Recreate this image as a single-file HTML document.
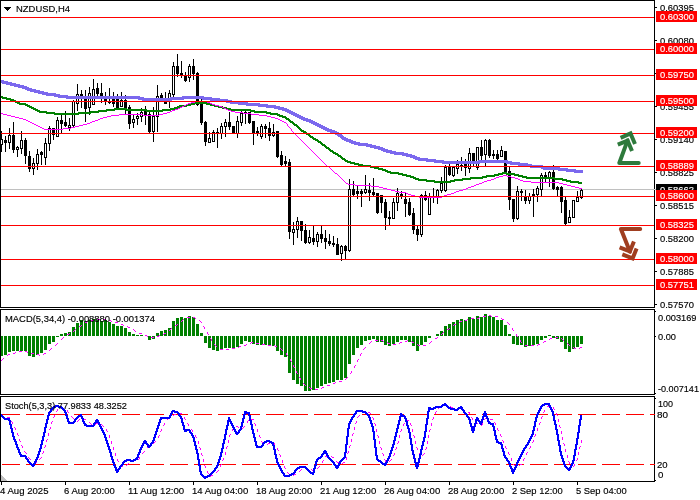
<!DOCTYPE html>
<html><head><meta charset="utf-8"><title>NZDUSD,H4</title>
<style>html,body{margin:0;padding:0;background:#fff;width:700px;height:500px;overflow:hidden}svg{display:block}rect,polygon,polyline,path{shape-rendering:crispEdges}.aa polyline{shape-rendering:geometricPrecision}text{font-family:'Liberation Sans', sans-serif;font-size:9.8px;fill:#000;stroke:#000;stroke-width:0.15px}text.w{fill:#fff;stroke:#fff}</style>
</head><body><svg width="700" height="500" viewBox="0 0 700 500"><rect width="700" height="500" fill="#fff"/><rect x="1" y="189" width="655" height="1" fill="#c0c0c0"/><rect x="1" y="131" width="1" height="21"/><rect x="0" y="139" width="3" height="6"/><rect x="1" y="140" width="1" height="4" fill="#fff"/><rect x="5" y="136" width="1" height="16"/><rect x="4" y="140" width="3" height="3"/><rect x="9" y="128" width="1" height="21"/><rect x="8" y="135" width="3" height="8"/><rect x="9" y="136" width="1" height="6" fill="#fff"/><rect x="13" y="122" width="1" height="31"/><rect x="12" y="135" width="3" height="15"/><rect x="17" y="146" width="1" height="11"/><rect x="16" y="147" width="3" height="3"/><rect x="17" y="148" width="1" height="1" fill="#fff"/><rect x="21" y="131" width="1" height="23"/><rect x="20" y="140" width="3" height="9"/><rect x="21" y="141" width="1" height="7" fill="#fff"/><rect x="25" y="138" width="1" height="26"/><rect x="24" y="140" width="3" height="16"/><rect x="29" y="151" width="1" height="21"/><rect x="28" y="156" width="3" height="13"/><rect x="33" y="158" width="1" height="17"/><rect x="32" y="163" width="3" height="6"/><rect x="33" y="164" width="1" height="4" fill="#fff"/><rect x="37" y="149" width="1" height="21"/><rect x="36" y="154" width="3" height="10"/><rect x="37" y="155" width="1" height="8" fill="#fff"/><rect x="41" y="151" width="1" height="14"/><rect x="40" y="152" width="3" height="3"/><rect x="45" y="138" width="1" height="27"/><rect x="44" y="143" width="3" height="15"/><rect x="45" y="144" width="1" height="13" fill="#fff"/><rect x="49" y="126" width="1" height="25"/><rect x="48" y="128" width="3" height="16"/><rect x="49" y="129" width="1" height="14" fill="#fff"/><rect x="53" y="128" width="1" height="12"/><rect x="52" y="128" width="3" height="7"/><rect x="57" y="117" width="1" height="20"/><rect x="56" y="120" width="3" height="17"/><rect x="57" y="121" width="1" height="15" fill="#fff"/><rect x="61" y="115" width="1" height="19"/><rect x="60" y="120" width="3" height="4"/><rect x="65" y="111" width="1" height="16"/><rect x="64" y="122" width="3" height="4"/><rect x="69" y="118" width="1" height="13"/><rect x="68" y="125" width="3" height="3"/><rect x="69" y="126" width="1" height="1" fill="#fff"/><rect x="73" y="100" width="1" height="27"/><rect x="72" y="101" width="3" height="25"/><rect x="73" y="102" width="1" height="23" fill="#fff"/><rect x="77" y="84" width="1" height="27"/><rect x="76" y="94" width="3" height="10"/><rect x="77" y="95" width="1" height="8" fill="#fff"/><rect x="81" y="90" width="1" height="18"/><rect x="80" y="94" width="3" height="3"/><rect x="85" y="90" width="1" height="32"/><rect x="84" y="99" width="3" height="10"/><rect x="89" y="87" width="1" height="28"/><rect x="88" y="93" width="3" height="15"/><rect x="89" y="94" width="1" height="13" fill="#fff"/><rect x="93" y="79" width="1" height="26"/><rect x="92" y="89" width="3" height="16"/><rect x="93" y="90" width="1" height="14" fill="#fff"/><rect x="97" y="83" width="1" height="14"/><rect x="96" y="88" width="3" height="6"/><rect x="101" y="83" width="1" height="20"/><rect x="100" y="93" width="3" height="4"/><rect x="105" y="92" width="1" height="13"/><rect x="104" y="99" width="3" height="2"/><rect x="109" y="88" width="1" height="16"/><rect x="108" y="101" width="3" height="2"/><rect x="113" y="92" width="1" height="15"/><rect x="112" y="99" width="3" height="5"/><rect x="117" y="94" width="1" height="15"/><rect x="116" y="99" width="3" height="9"/><rect x="121" y="92" width="1" height="15"/><rect x="120" y="100" width="3" height="7"/><rect x="121" y="101" width="1" height="5" fill="#fff"/><rect x="125" y="95" width="1" height="20"/><rect x="124" y="100" width="3" height="8"/><rect x="129" y="105" width="1" height="24"/><rect x="128" y="107" width="3" height="17"/><rect x="133" y="115" width="1" height="13"/><rect x="132" y="119" width="3" height="4"/><rect x="133" y="120" width="1" height="2" fill="#fff"/><rect x="137" y="113" width="1" height="12"/><rect x="136" y="116" width="3" height="3"/><rect x="137" y="117" width="1" height="1" fill="#fff"/><rect x="141" y="108" width="1" height="14"/><rect x="140" y="112" width="3" height="5"/><rect x="141" y="113" width="1" height="3" fill="#fff"/><rect x="145" y="106" width="1" height="19"/><rect x="144" y="110" width="3" height="5"/><rect x="149" y="112" width="1" height="21"/><rect x="148" y="114" width="3" height="18"/><rect x="153" y="107" width="1" height="35"/><rect x="152" y="116" width="3" height="16"/><rect x="153" y="117" width="1" height="14" fill="#fff"/><rect x="157" y="85" width="1" height="47"/><rect x="156" y="96" width="3" height="21"/><rect x="157" y="97" width="1" height="19" fill="#fff"/><rect x="161" y="93" width="1" height="8"/><rect x="160" y="95" width="3" height="4"/><rect x="165" y="92" width="1" height="12"/><rect x="164" y="102" width="3" height="2"/><rect x="169" y="90" width="1" height="18"/><rect x="168" y="93" width="3" height="6"/><rect x="169" y="94" width="1" height="4" fill="#fff"/><rect x="173" y="62" width="1" height="36"/><rect x="172" y="66" width="3" height="29"/><rect x="173" y="67" width="1" height="27" fill="#fff"/><rect x="177" y="54" width="1" height="23"/><rect x="176" y="66" width="3" height="8"/><rect x="181" y="61" width="1" height="17"/><rect x="180" y="73" width="3" height="3"/><rect x="185" y="72" width="1" height="10"/><rect x="184" y="76" width="3" height="5"/><rect x="189" y="64" width="1" height="18"/><rect x="188" y="66" width="3" height="12"/><rect x="189" y="67" width="1" height="10" fill="#fff"/><rect x="193" y="59" width="1" height="21"/><rect x="192" y="66" width="3" height="8"/><rect x="197" y="72" width="1" height="34"/><rect x="196" y="73" width="3" height="32"/><rect x="201" y="99" width="1" height="26"/><rect x="200" y="102" width="3" height="21"/><rect x="205" y="121" width="1" height="25"/><rect x="204" y="122" width="3" height="20"/><rect x="209" y="132" width="1" height="11"/><rect x="208" y="138" width="3" height="5"/><rect x="209" y="139" width="1" height="3" fill="#fff"/><rect x="213" y="130" width="1" height="12"/><rect x="212" y="132" width="3" height="10"/><rect x="213" y="133" width="1" height="8" fill="#fff"/><rect x="217" y="128" width="1" height="20"/><rect x="216" y="132" width="3" height="2"/><rect x="221" y="123" width="1" height="16"/><rect x="220" y="126" width="3" height="8"/><rect x="221" y="127" width="1" height="6" fill="#fff"/><rect x="225" y="119" width="1" height="18"/><rect x="224" y="122" width="3" height="5"/><rect x="225" y="123" width="1" height="3" fill="#fff"/><rect x="229" y="112" width="1" height="18"/><rect x="228" y="122" width="3" height="5"/><rect x="233" y="126" width="1" height="8"/><rect x="232" y="126" width="3" height="8"/><rect x="237" y="116" width="1" height="22"/><rect x="236" y="121" width="3" height="13"/><rect x="237" y="122" width="1" height="11" fill="#fff"/><rect x="241" y="111" width="1" height="15"/><rect x="240" y="113" width="3" height="10"/><rect x="241" y="114" width="1" height="8" fill="#fff"/><rect x="245" y="111" width="1" height="13"/><rect x="244" y="112" width="3" height="2"/><rect x="249" y="112" width="1" height="12"/><rect x="248" y="112" width="3" height="11"/><rect x="253" y="121" width="1" height="24"/><rect x="252" y="121" width="3" height="13"/><rect x="257" y="127" width="1" height="9"/><rect x="256" y="131" width="3" height="3"/><rect x="261" y="124" width="1" height="15"/><rect x="260" y="126" width="3" height="11"/><rect x="261" y="127" width="1" height="9" fill="#fff"/><rect x="265" y="124" width="1" height="14"/><rect x="264" y="126" width="3" height="3"/><rect x="269" y="122" width="1" height="19"/><rect x="268" y="128" width="3" height="8"/><rect x="273" y="124" width="1" height="13"/><rect x="272" y="132" width="3" height="4"/><rect x="273" y="133" width="1" height="2" fill="#fff"/><rect x="277" y="131" width="1" height="27"/><rect x="276" y="131" width="3" height="26"/><rect x="281" y="151" width="1" height="15"/><rect x="280" y="155" width="3" height="10"/><rect x="285" y="156" width="1" height="11"/><rect x="284" y="161" width="3" height="3"/><rect x="289" y="159" width="1" height="80"/><rect x="288" y="162" width="3" height="70"/><rect x="293" y="222" width="1" height="23"/><rect x="292" y="229" width="3" height="4"/><rect x="293" y="230" width="1" height="2" fill="#fff"/><rect x="297" y="217" width="1" height="21"/><rect x="296" y="221" width="3" height="9"/><rect x="297" y="222" width="1" height="7" fill="#fff"/><rect x="301" y="221" width="1" height="20"/><rect x="300" y="221" width="3" height="10"/><rect x="305" y="224" width="1" height="20"/><rect x="304" y="230" width="3" height="13"/><rect x="309" y="230" width="1" height="14"/><rect x="308" y="237" width="3" height="6"/><rect x="309" y="238" width="1" height="4" fill="#fff"/><rect x="313" y="226" width="1" height="19"/><rect x="312" y="238" width="3" height="4"/><rect x="317" y="232" width="1" height="15"/><rect x="316" y="234" width="3" height="8"/><rect x="317" y="235" width="1" height="6" fill="#fff"/><rect x="321" y="226" width="1" height="17"/><rect x="320" y="234" width="3" height="5"/><rect x="325" y="230" width="1" height="19"/><rect x="324" y="238" width="3" height="4"/><rect x="329" y="234" width="1" height="12"/><rect x="328" y="241" width="3" height="3"/><rect x="333" y="236" width="1" height="11"/><rect x="332" y="243" width="3" height="2"/><rect x="337" y="238" width="1" height="17"/><rect x="336" y="244" width="3" height="11"/><rect x="341" y="245" width="1" height="16"/><rect x="340" y="246" width="3" height="8"/><rect x="341" y="247" width="1" height="6" fill="#fff"/><rect x="345" y="245" width="1" height="15"/><rect x="344" y="246" width="3" height="5"/><rect x="349" y="179" width="1" height="73"/><rect x="348" y="189" width="3" height="62"/><rect x="349" y="190" width="1" height="60" fill="#fff"/><rect x="353" y="181" width="1" height="15"/><rect x="352" y="189" width="3" height="6"/><rect x="357" y="186" width="1" height="13"/><rect x="356" y="191" width="3" height="3"/><rect x="361" y="189" width="1" height="18"/><rect x="360" y="191" width="3" height="3"/><rect x="365" y="175" width="1" height="19"/><rect x="364" y="189" width="3" height="4"/><rect x="365" y="190" width="1" height="2" fill="#fff"/><rect x="369" y="183" width="1" height="18"/><rect x="368" y="190" width="3" height="3"/><rect x="373" y="178" width="1" height="18"/><rect x="372" y="192" width="3" height="3"/><rect x="377" y="193" width="1" height="21"/><rect x="376" y="193" width="3" height="20"/><rect x="381" y="195" width="1" height="18"/><rect x="380" y="195" width="3" height="8"/><rect x="385" y="199" width="1" height="31"/><rect x="384" y="202" width="3" height="16"/><rect x="389" y="211" width="1" height="14"/><rect x="388" y="217" width="3" height="2"/><rect x="393" y="198" width="1" height="21"/><rect x="392" y="202" width="3" height="17"/><rect x="393" y="203" width="1" height="15" fill="#fff"/><rect x="397" y="188" width="1" height="23"/><rect x="396" y="193" width="3" height="10"/><rect x="397" y="194" width="1" height="8" fill="#fff"/><rect x="401" y="191" width="1" height="8"/><rect x="400" y="194" width="3" height="3"/><rect x="405" y="193" width="1" height="24"/><rect x="404" y="199" width="3" height="5"/><rect x="409" y="198" width="1" height="18"/><rect x="408" y="202" width="3" height="13"/><rect x="413" y="208" width="1" height="26"/><rect x="412" y="213" width="3" height="17"/><rect x="417" y="226" width="1" height="15"/><rect x="416" y="229" width="3" height="6"/><rect x="421" y="194" width="1" height="43"/><rect x="420" y="195" width="3" height="40"/><rect x="421" y="196" width="1" height="38" fill="#fff"/><rect x="425" y="191" width="1" height="10"/><rect x="424" y="195" width="3" height="5"/><rect x="429" y="193" width="1" height="22"/><rect x="428" y="197" width="3" height="18"/><rect x="429" y="198" width="1" height="16" fill="#fff"/><rect x="433" y="188" width="1" height="15"/><rect x="432" y="196" width="3" height="2"/><rect x="437" y="189" width="1" height="15"/><rect x="436" y="190" width="3" height="8"/><rect x="437" y="191" width="1" height="6" fill="#fff"/><rect x="441" y="177" width="1" height="16"/><rect x="440" y="183" width="3" height="8"/><rect x="441" y="184" width="1" height="6" fill="#fff"/><rect x="445" y="165" width="1" height="27"/><rect x="444" y="167" width="3" height="24"/><rect x="445" y="168" width="1" height="22" fill="#fff"/><rect x="449" y="164" width="1" height="12"/><rect x="448" y="167" width="3" height="8"/><rect x="453" y="166" width="1" height="11"/><rect x="452" y="167" width="3" height="9"/><rect x="453" y="168" width="1" height="7" fill="#fff"/><rect x="457" y="160" width="1" height="14"/><rect x="456" y="164" width="3" height="5"/><rect x="457" y="165" width="1" height="3" fill="#fff"/><rect x="461" y="157" width="1" height="14"/><rect x="460" y="165" width="3" height="2"/><rect x="465" y="159" width="1" height="17"/><rect x="464" y="164" width="3" height="4"/><rect x="469" y="148" width="1" height="25"/><rect x="468" y="153" width="3" height="16"/><rect x="469" y="154" width="1" height="14" fill="#fff"/><rect x="473" y="153" width="1" height="13"/><rect x="472" y="153" width="3" height="9"/><rect x="477" y="147" width="1" height="23"/><rect x="476" y="147" width="3" height="21"/><rect x="477" y="148" width="1" height="19" fill="#fff"/><rect x="481" y="140" width="1" height="21"/><rect x="480" y="147" width="3" height="9"/><rect x="485" y="139" width="1" height="27"/><rect x="484" y="140" width="3" height="15"/><rect x="485" y="141" width="1" height="13" fill="#fff"/><rect x="489" y="139" width="1" height="19"/><rect x="488" y="140" width="3" height="16"/><rect x="493" y="150" width="1" height="9"/><rect x="492" y="154" width="3" height="2"/><rect x="497" y="150" width="1" height="10"/><rect x="496" y="154" width="3" height="5"/><rect x="501" y="146" width="1" height="11"/><rect x="500" y="150" width="3" height="7"/><rect x="501" y="151" width="1" height="5" fill="#fff"/><rect x="505" y="151" width="1" height="21"/><rect x="504" y="151" width="3" height="21"/><rect x="509" y="167" width="1" height="43"/><rect x="508" y="171" width="3" height="29"/><rect x="513" y="199" width="1" height="23"/><rect x="512" y="199" width="3" height="20"/><rect x="517" y="186" width="1" height="34"/><rect x="516" y="191" width="3" height="28"/><rect x="517" y="192" width="1" height="26" fill="#fff"/><rect x="521" y="189" width="1" height="12"/><rect x="520" y="191" width="3" height="2"/><rect x="525" y="190" width="1" height="14"/><rect x="524" y="197" width="3" height="4"/><rect x="529" y="193" width="1" height="11"/><rect x="528" y="196" width="3" height="5"/><rect x="529" y="197" width="1" height="3" fill="#fff"/><rect x="533" y="189" width="1" height="28"/><rect x="532" y="194" width="3" height="2"/><rect x="537" y="186" width="1" height="16"/><rect x="536" y="188" width="3" height="7"/><rect x="537" y="189" width="1" height="5" fill="#fff"/><rect x="541" y="173" width="1" height="24"/><rect x="540" y="175" width="3" height="15"/><rect x="541" y="176" width="1" height="13" fill="#fff"/><rect x="545" y="172" width="1" height="10"/><rect x="544" y="175" width="3" height="4"/><rect x="549" y="171" width="1" height="16"/><rect x="548" y="172" width="3" height="7"/><rect x="549" y="173" width="1" height="5" fill="#fff"/><rect x="553" y="165" width="1" height="25"/><rect x="552" y="172" width="3" height="17"/><rect x="557" y="186" width="1" height="10"/><rect x="556" y="187" width="3" height="3"/><rect x="561" y="186" width="1" height="27"/><rect x="560" y="187" width="3" height="15"/><rect x="565" y="197" width="1" height="29"/><rect x="564" y="200" width="3" height="24"/><rect x="569" y="210" width="1" height="13"/><rect x="568" y="217" width="3" height="6"/><rect x="569" y="218" width="1" height="4" fill="#fff"/><rect x="573" y="200" width="1" height="18"/><rect x="572" y="200" width="3" height="18"/><rect x="573" y="201" width="1" height="16" fill="#fff"/><rect x="577" y="191" width="1" height="11"/><rect x="576" y="197" width="3" height="5"/><rect x="577" y="198" width="1" height="3" fill="#fff"/><rect x="581" y="189" width="1" height="10"/><rect x="580" y="190" width="3" height="8"/><rect x="581" y="191" width="1" height="6" fill="#fff"/><path fill="#7b68ee" d="M0 80h4v1h-4zM0 81h8v1h-8zM0 82h12v1h-12zM2 83h14v1h-14zM6 84h14v1h-14zM10 85h14v1h-14zM14 86h13v1h-13zM18 87h11v1h-11zM22 88h10v1h-10zM25 89h11v1h-11zM27 90h13v1h-13zM30 91h14v1h-14zM34 92h14v1h-14zM38 93h18v1h-18zM42 94h18v1h-18zM46 95h22v1h-22zM54 96h86v1h-86zM182 96h22v1h-22zM58 97h86v1h-86zM170 97h42v1h-42zM66 98h154v1h-154zM138 99h46v1h-46zM202 99h26v1h-26zM142 100h30v1h-30zM210 100h22v1h-22zM218 101h22v1h-22zM226 102h22v1h-22zM230 103h30v1h-30zM238 104h30v1h-30zM246 105h30v1h-30zM258 106h22v1h-22zM266 107h18v1h-18zM274 108h13v1h-13zM278 109h11v1h-11zM282 110h9v1h-9zM285 111h8v1h-8zM287 112h8v1h-8zM289 113h8v1h-8zM291 114h8v1h-8zM293 115h8v1h-8zM295 116h8v1h-8zM297 117h8v1h-8zM299 118h9v1h-9zM301 119h10v1h-10zM303 120h10v1h-10zM306 121h9v1h-9zM309 122h8v1h-8zM311 123h8v1h-8zM313 124h8v1h-8zM315 125h8v1h-8zM317 126h8v1h-8zM319 127h8v1h-8zM321 128h8v1h-8zM323 129h9v1h-9zM325 130h10v1h-10zM327 131h10v1h-10zM330 132h9v1h-9zM333 133h7v1h-7zM335 134h7v1h-7zM337 135h6v1h-6zM338 136h6v1h-6zM340 137h6v1h-6zM341 138h7v1h-7zM342 139h9v1h-9zM344 140h9v1h-9zM346 141h10v1h-10zM349 142h11v1h-11zM351 143h17v1h-17zM354 144h18v1h-18zM358 145h18v1h-18zM366 146h14v1h-14zM370 147h13v1h-13zM374 148h11v1h-11zM378 149h10v1h-10zM381 150h11v1h-11zM383 151h13v1h-13zM386 152h18v1h-18zM390 153h18v1h-18zM394 154h18v1h-18zM402 155h13v1h-13zM406 156h11v1h-11zM410 157h10v1h-10zM413 158h15v1h-15zM415 159h21v1h-21zM418 160h26v1h-26zM478 160h30v1h-30zM426 161h86v1h-86zM434 162h86v1h-86zM442 163h38v1h-38zM506 163h22v1h-22zM510 164h22v1h-22zM518 165h25v1h-25zM526 166h19v1h-19zM530 167h30v1h-30zM541 168h27v1h-27zM543 169h33v1h-33zM558 170h25v1h-25zM566 171h17v1h-17zM574 172h9v1h-9z"/><path fill="#008000" d="M0 96h3v1h-3zM0 97h7v1h-7zM2 98h9v1h-9zM6 99h8v1h-8zM10 100h6v1h-6zM13 101h5v1h-5zM15 102h5v1h-5zM194 102h13v1h-13zM17 103h9v1h-9zM190 103h21v1h-21zM19 104h9v1h-9zM186 104h9v1h-9zM206 104h9v1h-9zM25 105h5v1h-5zM179 105h12v1h-12zM210 105h9v1h-9zM27 106h5v1h-5zM177 106h10v1h-10zM214 106h9v1h-9zM29 107h5v1h-5zM174 107h6v1h-6zM218 107h9v1h-9zM31 108h5v1h-5zM114 108h13v1h-13zM170 108h8v1h-8zM222 108h9v1h-9zM33 109h5v1h-5zM106 109h41v1h-41zM162 109h13v1h-13zM226 109h25v1h-25zM35 110h5v1h-5zM98 110h17v1h-17zM126 110h45v1h-45zM230 110h25v1h-25zM37 111h10v1h-10zM90 111h17v1h-17zM146 111h17v1h-17zM250 111h17v1h-17zM39 112h16v1h-16zM78 112h21v1h-21zM254 112h17v1h-17zM46 113h45v1h-45zM266 113h12v1h-12zM54 114h25v1h-25zM270 114h10v1h-10zM277 115h6v1h-6zM279 116h7v1h-7zM282 117h5v1h-5zM285 118h4v1h-4zM286 119h4v1h-4zM288 120h3v1h-3zM289 121h4v1h-4zM290 122h4v1h-4zM292 123h3v1h-3zM293 124h4v1h-4zM294 125h4v1h-4zM296 126h3v1h-3zM297 127h3v1h-3zM298 128h3v1h-3zM299 129h3v1h-3zM300 130h4v1h-4zM301 131h5v1h-5zM303 132h4v1h-4zM305 133h4v1h-4zM306 134h4v1h-4zM308 135h3v1h-3zM309 136h4v1h-4zM310 137h4v1h-4zM312 138h4v1h-4zM313 139h5v1h-5zM315 140h4v1h-4zM317 141h4v1h-4zM318 142h4v1h-4zM320 143h3v1h-3zM321 144h4v1h-4zM322 145h4v1h-4zM324 146h3v1h-3zM325 147h4v1h-4zM326 148h4v1h-4zM328 149h3v1h-3zM329 150h4v1h-4zM330 151h4v1h-4zM332 152h4v1h-4zM333 153h5v1h-5zM335 154h4v1h-4zM337 155h4v1h-4zM338 156h4v1h-4zM340 157h3v1h-3zM341 158h4v1h-4zM342 159h4v1h-4zM344 160h4v1h-4zM345 161h6v1h-6zM347 162h8v1h-8zM350 163h9v1h-9zM354 164h9v1h-9zM358 165h13v1h-13zM362 166h13v1h-13zM370 167h9v1h-9zM374 168h9v1h-9zM378 169h8v1h-8zM382 170h6v1h-6zM385 171h6v1h-6zM387 172h12v1h-12zM502 172h5v1h-5zM390 173h13v1h-13zM498 173h17v1h-17zM398 174h9v1h-9zM494 174h9v1h-9zM506 174h13v1h-13zM402 175h9v1h-9zM486 175h13v1h-13zM514 175h9v1h-9zM406 176h8v1h-8zM482 176h13v1h-13zM518 176h9v1h-9zM410 177h6v1h-6zM470 177h17v1h-17zM522 177h33v1h-33zM413 178h6v1h-6zM462 178h21v1h-21zM526 178h37v1h-37zM415 179h12v1h-12zM454 179h17v1h-17zM554 179h13v1h-13zM418 180h17v1h-17zM450 180h13v1h-13zM562 180h9v1h-9zM426 181h29v1h-29zM566 181h13v1h-13zM434 182h17v1h-17zM570 182h12v1h-12zM578 183h4v1h-4z"/><path fill="#ff00ff" d="M195 101h12v1h-12zM191 102h4v1h-4zM207 102h3v1h-3zM188 103h3v1h-3zM210 103h2v1h-2zM186 104h2v1h-2zM212 104h3v1h-3zM184 105h2v1h-2zM215 105h4v1h-4zM182 106h2v1h-2zM219 106h3v1h-3zM180 107h2v1h-2zM222 107h2v1h-2zM178 108h2v1h-2zM224 108h2v1h-2zM175 109h3v1h-3zM226 109h2v1h-2zM172 110h3v1h-3zM228 110h3v1h-3zM170 111h2v1h-2zM231 111h4v1h-4zM167 112h3v1h-3zM235 112h8v1h-8zM1 113h2v1h-2zM163 113h4v1h-4zM243 113h8v1h-8zM3 114h4v1h-4zM119 114h24v1h-24zM159 114h4v1h-4zM251 114h8v1h-8zM7 115h4v1h-4zM111 115h8v1h-8zM143 115h16v1h-16zM259 115h8v1h-8zM11 116h4v1h-4zM107 116h4v1h-4zM267 116h4v1h-4zM15 117h4v1h-4zM103 117h4v1h-4zM271 117h4v1h-4zM19 118h4v1h-4zM100 118h3v1h-3zM275 118h3v1h-3zM23 119h3v1h-3zM98 119h2v1h-2zM278 119h2v1h-2zM26 120h2v1h-2zM95 120h3v1h-3zM280 120h2v1h-2zM28 121h2v1h-2zM92 121h3v1h-3zM282 121h2v1h-2zM30 122h2v1h-2zM90 122h2v1h-2zM284 122h2v1h-2zM32 123h2v1h-2zM87 123h3v1h-3zM286 123h1v1h-1zM34 124h2v1h-2zM83 124h4v1h-4zM287 124h1v1h-1zM36 125h2v1h-2zM79 125h4v1h-4zM287 125h1v1h-1zM38 126h2v1h-2zM75 126h4v1h-4zM288 126h1v1h-1zM40 127h2v1h-2zM71 127h4v1h-4zM289 127h1v1h-1zM42 128h2v1h-2zM63 128h8v1h-8zM290 128h1v1h-1zM44 129h19v1h-19zM291 129h1v1h-1zM291 130h1v1h-1zM292 131h1v1h-1zM293 132h1v1h-1zM294 133h1v1h-1zM295 134h1v1h-1zM296 135h1v1h-1zM297 136h1v1h-1zM298 137h1v1h-1zM299 138h1v1h-1zM300 139h1v1h-1zM301 140h1v1h-1zM302 141h1v1h-1zM303 142h1v1h-1zM304 143h1v1h-1zM305 144h1v1h-1zM306 145h1v1h-1zM307 146h1v1h-1zM308 147h1v1h-1zM309 148h1v1h-1zM310 149h1v1h-1zM311 150h1v1h-1zM312 151h1v1h-1zM313 152h1v1h-1zM314 153h1v1h-1zM315 154h1v1h-1zM316 155h1v1h-1zM317 156h1v1h-1zM318 157h1v1h-1zM319 158h1v1h-1zM320 159h1v1h-1zM321 160h1v1h-1zM322 161h1v1h-1zM323 162h1v1h-1zM324 163h1v1h-1zM325 164h1v1h-1zM326 165h1v1h-1zM327 166h2v1h-2zM329 167h1v1h-1zM330 168h1v1h-1zM331 169h1v1h-1zM332 170h1v1h-1zM333 171h1v1h-1zM334 172h1v1h-1zM335 173h2v1h-2zM337 174h1v1h-1zM338 175h1v1h-1zM503 175h4v1h-4zM339 176h1v1h-1zM499 176h4v1h-4zM507 176h4v1h-4zM340 177h1v1h-1zM496 177h3v1h-3zM511 177h4v1h-4zM341 178h1v1h-1zM494 178h2v1h-2zM515 178h3v1h-3zM342 179h1v1h-1zM491 179h3v1h-3zM518 179h2v1h-2zM343 180h1v1h-1zM487 180h4v1h-4zM520 180h3v1h-3zM344 181h1v1h-1zM484 181h3v1h-3zM523 181h8v1h-8zM345 182h1v1h-1zM482 182h2v1h-2zM531 182h28v1h-28zM346 183h2v1h-2zM479 183h3v1h-3zM559 183h4v1h-4zM348 184h7v1h-7zM476 184h3v1h-3zM563 184h4v1h-4zM355 185h16v1h-16zM474 185h2v1h-2zM567 185h4v1h-4zM371 186h8v1h-8zM471 186h3v1h-3zM571 186h4v1h-4zM379 187h4v1h-4zM468 187h3v1h-3zM575 187h4v1h-4zM383 188h4v1h-4zM466 188h2v1h-2zM579 188h3v1h-3zM387 189h4v1h-4zM463 189h3v1h-3zM391 190h4v1h-4zM459 190h4v1h-4zM395 191h4v1h-4zM456 191h3v1h-3zM399 192h7v1h-7zM454 192h2v1h-2zM406 193h2v1h-2zM451 193h3v1h-3zM408 194h3v1h-3zM447 194h4v1h-4zM411 195h4v1h-4zM444 195h3v1h-3zM415 196h4v1h-4zM442 196h2v1h-2zM419 197h23v1h-23z"/><rect x="1" y="17" width="653" height="1" fill="#f00"/><rect x="1" y="49" width="653" height="1" fill="#f00"/><rect x="1" y="75" width="653" height="1" fill="#f00"/><rect x="1" y="101" width="653" height="1" fill="#f00"/><rect x="1" y="133" width="653" height="1" fill="#f00"/><rect x="1" y="166" width="653" height="1" fill="#f00"/><rect x="1" y="196" width="653" height="1" fill="#f00"/><rect x="1" y="225" width="653" height="1" fill="#f00"/><rect x="1" y="259" width="653" height="1" fill="#f00"/><rect x="1" y="285" width="653" height="1" fill="#f00"/><g class="aa" fill="none" stroke="#2e7a3c" stroke-width="4"><polyline points="638.7,163 619.3,163 627.5,140.6" stroke-linecap="round" stroke-linejoin="round"/><polyline points="617.8,144.7 627.6,140.6 632,151"/><polyline points="620.6,137.8 630.5,133.5 635,144"/></g><g class="aa" fill="none" stroke="#a03e20" stroke-width="4"><polyline points="640.2,229 620.9,229 629.9,251.4" stroke-linecap="round" stroke-linejoin="round"/><polyline points="619.6,247.4 629.9,251.4 633.9,241.6"/><polyline points="622.3,254.4 632.6,258.4 636.6,248.6"/></g><rect x="0" y="336" width="3" height="20" fill="#008000"/><rect x="4" y="336" width="3" height="19" fill="#008000"/><rect x="8" y="336" width="3" height="16" fill="#008000"/><rect x="12" y="336" width="3" height="15" fill="#008000"/><rect x="16" y="336" width="3" height="15" fill="#008000"/><rect x="20" y="336" width="3" height="15" fill="#008000"/><rect x="24" y="336" width="3" height="15" fill="#008000"/><rect x="28" y="336" width="3" height="20" fill="#008000"/><rect x="32" y="336" width="3" height="21" fill="#008000"/><rect x="36" y="336" width="3" height="19" fill="#008000"/><rect x="40" y="336" width="3" height="17" fill="#008000"/><rect x="44" y="336" width="3" height="14" fill="#008000"/><rect x="48" y="336" width="3" height="8" fill="#008000"/><rect x="52" y="336" width="3" height="6" fill="#008000"/><rect x="56" y="336" width="3" height="1" fill="#008000"/><rect x="60" y="334" width="3" height="2" fill="#008000"/><rect x="64" y="333" width="3" height="3" fill="#008000"/><rect x="68" y="332" width="3" height="4" fill="#008000"/><rect x="72" y="327" width="3" height="9" fill="#008000"/><rect x="76" y="323" width="3" height="13" fill="#008000"/><rect x="80" y="320" width="3" height="16" fill="#008000"/><rect x="84" y="321" width="3" height="15" fill="#008000"/><rect x="88" y="320" width="3" height="16" fill="#008000"/><rect x="92" y="319" width="3" height="17" fill="#008000"/><rect x="96" y="319" width="3" height="17" fill="#008000"/><rect x="100" y="321" width="3" height="15" fill="#008000"/><rect x="104" y="320" width="3" height="16" fill="#008000"/><rect x="108" y="322" width="3" height="14" fill="#008000"/><rect x="112" y="324" width="3" height="12" fill="#008000"/><rect x="116" y="326" width="3" height="10" fill="#008000"/><rect x="120" y="326" width="3" height="10" fill="#008000"/><rect x="124" y="328" width="3" height="8" fill="#008000"/><rect x="128" y="332" width="3" height="4" fill="#008000"/><rect x="132" y="334" width="3" height="2" fill="#008000"/><rect x="136" y="335" width="3" height="1" fill="#008000"/><rect x="140" y="335" width="3" height="1" fill="#008000"/><rect x="148" y="336" width="3" height="4" fill="#008000"/><rect x="152" y="336" width="3" height="3" fill="#008000"/><rect x="156" y="333" width="3" height="3" fill="#008000"/><rect x="160" y="331" width="3" height="5" fill="#008000"/><rect x="164" y="330" width="3" height="6" fill="#008000"/><rect x="168" y="328" width="3" height="8" fill="#008000"/><rect x="172" y="321" width="3" height="15" fill="#008000"/><rect x="176" y="318" width="3" height="18" fill="#008000"/><rect x="180" y="317" width="3" height="19" fill="#008000"/><rect x="184" y="318" width="3" height="18" fill="#008000"/><rect x="188" y="316" width="3" height="20" fill="#008000"/><rect x="192" y="317" width="3" height="19" fill="#008000"/><rect x="196" y="324" width="3" height="12" fill="#008000"/><rect x="200" y="333" width="3" height="3" fill="#008000"/><rect x="204" y="336" width="3" height="7" fill="#008000"/><rect x="208" y="336" width="3" height="12" fill="#008000"/><rect x="212" y="336" width="3" height="14" fill="#008000"/><rect x="216" y="336" width="3" height="15" fill="#008000"/><rect x="220" y="336" width="3" height="13" fill="#008000"/><rect x="224" y="336" width="3" height="12" fill="#008000"/><rect x="228" y="336" width="3" height="12" fill="#008000"/><rect x="232" y="336" width="3" height="12" fill="#008000"/><rect x="236" y="336" width="3" height="11" fill="#008000"/><rect x="240" y="336" width="3" height="8" fill="#008000"/><rect x="244" y="336" width="3" height="5" fill="#008000"/><rect x="248" y="336" width="3" height="6" fill="#008000"/><rect x="252" y="336" width="3" height="8" fill="#008000"/><rect x="256" y="336" width="3" height="9" fill="#008000"/><rect x="260" y="336" width="3" height="9" fill="#008000"/><rect x="264" y="336" width="3" height="9" fill="#008000"/><rect x="268" y="336" width="3" height="10" fill="#008000"/><rect x="272" y="336" width="3" height="10" fill="#008000"/><rect x="276" y="336" width="3" height="15" fill="#008000"/><rect x="280" y="336" width="3" height="19" fill="#008000"/><rect x="284" y="336" width="3" height="21" fill="#008000"/><rect x="288" y="336" width="3" height="37" fill="#008000"/><rect x="292" y="336" width="3" height="44" fill="#008000"/><rect x="296" y="336" width="3" height="48" fill="#008000"/><rect x="300" y="336" width="3" height="50" fill="#008000"/><rect x="304" y="336" width="3" height="55" fill="#008000"/><rect x="308" y="336" width="3" height="55" fill="#008000"/><rect x="312" y="336" width="3" height="54" fill="#008000"/><rect x="316" y="336" width="3" height="52" fill="#008000"/><rect x="320" y="336" width="3" height="50" fill="#008000"/><rect x="324" y="336" width="3" height="48" fill="#008000"/><rect x="328" y="336" width="3" height="47" fill="#008000"/><rect x="332" y="336" width="3" height="46" fill="#008000"/><rect x="336" y="336" width="3" height="44" fill="#008000"/><rect x="340" y="336" width="3" height="44" fill="#008000"/><rect x="344" y="336" width="3" height="42" fill="#008000"/><rect x="348" y="336" width="3" height="28" fill="#008000"/><rect x="352" y="336" width="3" height="19" fill="#008000"/><rect x="356" y="336" width="3" height="12" fill="#008000"/><rect x="360" y="336" width="3" height="9" fill="#008000"/><rect x="364" y="336" width="3" height="5" fill="#008000"/><rect x="368" y="336" width="3" height="4" fill="#008000"/><rect x="372" y="336" width="3" height="3" fill="#008000"/><rect x="376" y="336" width="3" height="6" fill="#008000"/><rect x="380" y="336" width="3" height="6" fill="#008000"/><rect x="384" y="336" width="3" height="9" fill="#008000"/><rect x="388" y="336" width="3" height="10" fill="#008000"/><rect x="392" y="336" width="3" height="8" fill="#008000"/><rect x="396" y="336" width="3" height="6" fill="#008000"/><rect x="400" y="336" width="3" height="4" fill="#008000"/><rect x="404" y="336" width="3" height="4" fill="#008000"/><rect x="408" y="336" width="3" height="6" fill="#008000"/><rect x="412" y="336" width="3" height="10" fill="#008000"/><rect x="416" y="336" width="3" height="15" fill="#008000"/><rect x="420" y="336" width="3" height="9" fill="#008000"/><rect x="424" y="336" width="3" height="6" fill="#008000"/><rect x="428" y="336" width="3" height="2" fill="#008000"/><rect x="436" y="334" width="3" height="2" fill="#008000"/><rect x="440" y="331" width="3" height="5" fill="#008000"/><rect x="444" y="326" width="3" height="10" fill="#008000"/><rect x="448" y="324" width="3" height="12" fill="#008000"/><rect x="452" y="322" width="3" height="14" fill="#008000"/><rect x="456" y="320" width="3" height="16" fill="#008000"/><rect x="460" y="319" width="3" height="17" fill="#008000"/><rect x="464" y="320" width="3" height="16" fill="#008000"/><rect x="468" y="317" width="3" height="19" fill="#008000"/><rect x="472" y="319" width="3" height="17" fill="#008000"/><rect x="476" y="316" width="3" height="20" fill="#008000"/><rect x="480" y="317" width="3" height="19" fill="#008000"/><rect x="484" y="314" width="3" height="22" fill="#008000"/><rect x="488" y="316" width="3" height="20" fill="#008000"/><rect x="492" y="317" width="3" height="19" fill="#008000"/><rect x="496" y="320" width="3" height="16" fill="#008000"/><rect x="500" y="320" width="3" height="16" fill="#008000"/><rect x="504" y="325" width="3" height="11" fill="#008000"/><rect x="508" y="334" width="3" height="2" fill="#008000"/><rect x="512" y="336" width="3" height="8" fill="#008000"/><rect x="516" y="336" width="3" height="9" fill="#008000"/><rect x="520" y="336" width="3" height="9" fill="#008000"/><rect x="524" y="336" width="3" height="11" fill="#008000"/><rect x="528" y="336" width="3" height="10" fill="#008000"/><rect x="532" y="336" width="3" height="9" fill="#008000"/><rect x="536" y="336" width="3" height="8" fill="#008000"/><rect x="540" y="336" width="3" height="4" fill="#008000"/><rect x="544" y="336" width="3" height="2" fill="#008000"/><rect x="548" y="335" width="3" height="1" fill="#008000"/><rect x="552" y="336" width="3" height="2" fill="#008000"/><rect x="556" y="336" width="3" height="3" fill="#008000"/><rect x="560" y="336" width="3" height="6" fill="#008000"/><rect x="564" y="336" width="3" height="13" fill="#008000"/><rect x="568" y="336" width="3" height="16" fill="#008000"/><rect x="572" y="336" width="3" height="13" fill="#008000"/><rect x="576" y="336" width="3" height="11" fill="#008000"/><rect x="580" y="336" width="3" height="8" fill="#008000"/><path fill="#ff00ff" d="M489 315h2v1h-2zM483 316h3v1h-3zM491 316h1v1h-1zM495 316h3v1h-3zM187 317h3v1h-3zM193 317h2v1h-2zM479 317h1v1h-1zM195 318h1v1h-1zM471 318h3v1h-3zM477 318h2v1h-2zM501 318h1v1h-1zM97 319h3v1h-3zM103 319h3v1h-3zM183 319h1v1h-1zM467 319h1v1h-1zM502 319h2v1h-2zM91 320h3v1h-3zM109 320h2v1h-2zM182 320h1v1h-1zM199 320h1v1h-1zM465 320h2v1h-2zM87 321h1v1h-1zM111 321h1v1h-1zM181 321h1v1h-1zM200 321h1v1h-1zM460 321h2v1h-2zM85 322h2v1h-2zM115 322h3v1h-3zM201 322h1v1h-1zM459 322h1v1h-1zM507 322h1v1h-1zM508 323h1v1h-1zM121 324h2v1h-2zM177 324h1v1h-1zM454 324h2v1h-2zM509 324h1v1h-1zM81 325h1v1h-1zM123 325h1v1h-1zM175 325h2v1h-2zM453 325h1v1h-1zM79 326h2v1h-2zM127 326h1v1h-1zM203 326h1v1h-1zM128 327h2v1h-2zM204 327h1v1h-1zM171 328h1v1h-1zM204 328h1v1h-1zM449 328h1v1h-1zM512 328h1v1h-1zM75 329h1v1h-1zM133 329h1v1h-1zM170 329h1v1h-1zM447 329h2v1h-2zM512 329h1v1h-1zM74 330h1v1h-1zM134 330h1v1h-1zM169 330h1v1h-1zM513 330h1v1h-1zM73 331h1v1h-1zM135 331h1v1h-1zM207 332h1v1h-1zM443 332h1v1h-1zM69 333h1v1h-1zM139 333h3v1h-3zM164 333h2v1h-2zM207 333h1v1h-1zM442 333h1v1h-1zM67 334h2v1h-2zM163 334h1v1h-1zM208 334h1v1h-1zM441 334h1v1h-1zM516 334h1v1h-1zM145 335h2v1h-2zM159 335h1v1h-1zM516 335h1v1h-1zM147 336h1v1h-1zM157 336h2v1h-2zM517 336h1v1h-1zM63 337h1v1h-1zM151 337h3v1h-3zM437 337h1v1h-1zM555 337h3v1h-3zM62 338h1v1h-1zM210 338h1v1h-1zM435 338h2v1h-2zM550 338h2v1h-2zM561 338h1v1h-1zM61 339h1v1h-1zM211 339h1v1h-1zM549 339h1v1h-1zM562 339h1v1h-1zM211 340h1v1h-1zM375 340h3v1h-3zM381 340h2v1h-2zM407 340h1v1h-1zM520 340h1v1h-1zM563 340h1v1h-1zM371 341h1v1h-1zM383 341h1v1h-1zM405 341h2v1h-2zM411 341h1v1h-1zM431 341h1v1h-1zM520 341h1v1h-1zM544 341h2v1h-2zM251 342h2v1h-2zM370 342h1v1h-1zM387 342h1v1h-1zM400 342h2v1h-2zM412 342h2v1h-2zM430 342h1v1h-1zM521 342h1v1h-1zM543 342h1v1h-1zM57 343h1v1h-1zM250 343h1v1h-1zM256 343h3v1h-3zM369 343h1v1h-1zM388 343h2v1h-2zM399 343h1v1h-1zM429 343h1v1h-1zM567 343h1v1h-1zM56 344h1v1h-1zM214 344h1v1h-1zM246 344h1v1h-1zM262 344h3v1h-3zM393 344h3v1h-3zM417 344h1v1h-1zM538 344h2v1h-2zM568 344h1v1h-1zM55 345h1v1h-1zM215 345h1v1h-1zM244 345h2v1h-2zM268 345h3v1h-3zM274 345h1v1h-1zM418 345h2v1h-2zM423 345h3v1h-3zM525 345h3v1h-3zM531 345h3v1h-3zM537 345h1v1h-1zM569 345h1v1h-1zM216 346h1v1h-1zM239 346h2v1h-2zM275 346h2v1h-2zM238 347h1v1h-1zM365 347h1v1h-1zM573 347h1v1h-1zM580 347h2v1h-2zM51 348h1v1h-1zM232 348h3v1h-3zM280 348h1v1h-1zM364 348h1v1h-1zM574 348h2v1h-2zM579 348h1v1h-1zM50 349h1v1h-1zM220 349h3v1h-3zM226 349h3v1h-3zM281 349h1v1h-1zM363 349h1v1h-1zM49 350h1v1h-1zM282 350h1v1h-1zM19 351h3v1h-3zM25 351h2v1h-2zM15 352h1v1h-1zM27 352h1v1h-1zM13 353h2v1h-2zM31 353h3v1h-3zM44 353h2v1h-2zM286 353h1v1h-1zM361 353h1v1h-1zM8 354h2v1h-2zM37 354h2v1h-2zM43 354h1v1h-1zM286 354h1v1h-1zM360 354h1v1h-1zM7 355h1v1h-1zM39 355h1v1h-1zM287 355h1v1h-1zM360 355h1v1h-1zM3 358h1v1h-1zM2 359h1v1h-1zM290 359h1v1h-1zM358 359h1v1h-1zM1 360h1v1h-1zM290 360h1v1h-1zM357 360h1v1h-1zM291 361h1v1h-1zM357 361h1v1h-1zM293 365h1v1h-1zM355 365h1v1h-1zM293 366h1v1h-1zM354 366h1v1h-1zM294 367h1v1h-1zM354 367h1v1h-1zM296 371h1v1h-1zM351 371h1v1h-1zM296 372h1v1h-1zM351 372h1v1h-1zM297 373h1v1h-1zM350 373h1v1h-1zM299 377h1v1h-1zM347 377h1v1h-1zM300 378h1v1h-1zM346 378h1v1h-1zM300 379h1v1h-1zM345 379h1v1h-1zM339 381h3v1h-3zM335 382h1v1h-1zM303 383h1v1h-1zM333 383h2v1h-2zM304 384h1v1h-1zM305 385h1v1h-1zM327 385h3v1h-3zM309 387h1v1h-1zM322 387h2v1h-2zM310 388h2v1h-2zM321 388h1v1h-1zM315 389h3v1h-3z"/><rect x="2" y="414" width="18" height="1" fill="#f00"/><rect x="26" y="414" width="18" height="1" fill="#f00"/><rect x="50" y="414" width="18" height="1" fill="#f00"/><rect x="74" y="414" width="18" height="1" fill="#f00"/><rect x="98" y="414" width="18" height="1" fill="#f00"/><rect x="122" y="414" width="18" height="1" fill="#f00"/><rect x="146" y="414" width="18" height="1" fill="#f00"/><rect x="170" y="414" width="18" height="1" fill="#f00"/><rect x="194" y="414" width="18" height="1" fill="#f00"/><rect x="218" y="414" width="18" height="1" fill="#f00"/><rect x="242" y="414" width="18" height="1" fill="#f00"/><rect x="266" y="414" width="18" height="1" fill="#f00"/><rect x="290" y="414" width="18" height="1" fill="#f00"/><rect x="314" y="414" width="18" height="1" fill="#f00"/><rect x="338" y="414" width="18" height="1" fill="#f00"/><rect x="362" y="414" width="18" height="1" fill="#f00"/><rect x="386" y="414" width="18" height="1" fill="#f00"/><rect x="410" y="414" width="18" height="1" fill="#f00"/><rect x="434" y="414" width="18" height="1" fill="#f00"/><rect x="458" y="414" width="18" height="1" fill="#f00"/><rect x="482" y="414" width="18" height="1" fill="#f00"/><rect x="506" y="414" width="18" height="1" fill="#f00"/><rect x="530" y="414" width="18" height="1" fill="#f00"/><rect x="554" y="414" width="18" height="1" fill="#f00"/><rect x="578" y="414" width="18" height="1" fill="#f00"/><rect x="602" y="414" width="18" height="1" fill="#f00"/><rect x="626" y="414" width="18" height="1" fill="#f00"/><rect x="650" y="414" width="4" height="1" fill="#f00"/><rect x="2" y="464" width="18" height="1" fill="#f00"/><rect x="26" y="464" width="18" height="1" fill="#f00"/><rect x="50" y="464" width="18" height="1" fill="#f00"/><rect x="74" y="464" width="18" height="1" fill="#f00"/><rect x="98" y="464" width="18" height="1" fill="#f00"/><rect x="122" y="464" width="18" height="1" fill="#f00"/><rect x="146" y="464" width="18" height="1" fill="#f00"/><rect x="170" y="464" width="18" height="1" fill="#f00"/><rect x="194" y="464" width="18" height="1" fill="#f00"/><rect x="218" y="464" width="18" height="1" fill="#f00"/><rect x="242" y="464" width="18" height="1" fill="#f00"/><rect x="266" y="464" width="18" height="1" fill="#f00"/><rect x="290" y="464" width="18" height="1" fill="#f00"/><rect x="314" y="464" width="18" height="1" fill="#f00"/><rect x="338" y="464" width="18" height="1" fill="#f00"/><rect x="362" y="464" width="18" height="1" fill="#f00"/><rect x="386" y="464" width="18" height="1" fill="#f00"/><rect x="410" y="464" width="18" height="1" fill="#f00"/><rect x="434" y="464" width="18" height="1" fill="#f00"/><rect x="458" y="464" width="18" height="1" fill="#f00"/><rect x="482" y="464" width="18" height="1" fill="#f00"/><rect x="506" y="464" width="18" height="1" fill="#f00"/><rect x="530" y="464" width="18" height="1" fill="#f00"/><rect x="554" y="464" width="18" height="1" fill="#f00"/><rect x="578" y="464" width="18" height="1" fill="#f00"/><rect x="602" y="464" width="18" height="1" fill="#f00"/><rect x="626" y="464" width="18" height="1" fill="#f00"/><rect x="650" y="464" width="4" height="1" fill="#f00"/><path fill="#ff00ff" d="M444 405h3v1h-3zM549 405h1v1h-1zM450 406h1v1h-1zM547 406h2v1h-2zM61 407h2v1h-2zM439 407h2v1h-2zM451 407h2v1h-2zM553 407h1v1h-1zM63 408h1v1h-1zM438 408h1v1h-1zM553 408h1v1h-1zM57 409h1v1h-1zM456 409h3v1h-3zM462 409h2v1h-2zM554 409h1v1h-1zM57 410h1v1h-1zM67 410h1v1h-1zM464 410h1v1h-1zM544 410h1v1h-1zM56 411h1v1h-1zM67 411h1v1h-1zM363 411h2v1h-2zM436 411h1v1h-1zM544 411h1v1h-1zM68 412h1v1h-1zM362 412h1v1h-1zM368 412h2v1h-2zM435 412h1v1h-1zM468 412h2v1h-2zM543 412h1v1h-1zM179 413h3v1h-3zM370 413h1v1h-1zM435 413h1v1h-1zM469 413h1v1h-1zM556 413h1v1h-1zM174 414h2v1h-2zM556 414h1v1h-1zM1 415h1v1h-1zM54 415h1v1h-1zM173 415h1v1h-1zM359 415h1v1h-1zM557 415h1v1h-1zM2 416h2v1h-2zM54 416h1v1h-1zM71 416h1v1h-1zM358 416h1v1h-1zM542 416h1v1h-1zM7 417h3v1h-3zM53 417h1v1h-1zM72 417h1v1h-1zM169 417h1v1h-1zM184 417h1v1h-1zM357 417h1v1h-1zM372 417h1v1h-1zM433 417h1v1h-1zM471 417h1v1h-1zM541 417h1v1h-1zM73 418h1v1h-1zM168 418h1v1h-1zM184 418h1v1h-1zM373 418h1v1h-1zM433 418h1v1h-1zM472 418h1v1h-1zM485 418h2v1h-2zM541 418h1v1h-1zM79 419h1v1h-1zM83 419h3v1h-3zM167 419h1v1h-1zM185 419h1v1h-1zM251 419h3v1h-3zM373 419h1v1h-1zM432 419h1v1h-1zM472 419h1v1h-1zM484 419h1v1h-1zM490 419h3v1h-3zM558 419h1v1h-1zM78 420h1v1h-1zM248 420h1v1h-1zM406 420h3v1h-3zM558 420h1v1h-1zM11 421h1v1h-1zM52 421h1v1h-1zM77 421h1v1h-1zM247 421h1v1h-1zM356 421h1v1h-1zM558 421h1v1h-1zM12 422h1v1h-1zM51 422h1v1h-1zM89 422h1v1h-1zM247 422h1v1h-1zM356 422h1v1h-1zM475 422h1v1h-1zM494 422h1v1h-1zM540 422h1v1h-1zM12 423h1v1h-1zM51 423h1v1h-1zM90 423h1v1h-1zM96 423h2v1h-2zM164 423h1v1h-1zM187 423h1v1h-1zM254 423h1v1h-1zM355 423h1v1h-1zM374 423h1v1h-1zM404 423h1v1h-1zM410 423h1v1h-1zM431 423h1v1h-1zM476 423h2v1h-2zM482 423h1v1h-1zM495 423h1v1h-1zM539 423h1v1h-1zM91 424h1v1h-1zM95 424h1v1h-1zM101 424h1v1h-1zM164 424h1v1h-1zM188 424h1v1h-1zM255 424h1v1h-1zM375 424h1v1h-1zM403 424h1v1h-1zM410 424h1v1h-1zM431 424h1v1h-1zM482 424h1v1h-1zM495 424h1v1h-1zM539 424h1v1h-1zM102 425h1v1h-1zM163 425h1v1h-1zM188 425h1v1h-1zM255 425h1v1h-1zM375 425h1v1h-1zM403 425h1v1h-1zM411 425h1v1h-1zM431 425h1v1h-1zM481 425h1v1h-1zM559 425h1v1h-1zM103 426h1v1h-1zM236 426h2v1h-2zM244 426h1v1h-1zM559 426h1v1h-1zM14 427h1v1h-1zM50 427h1v1h-1zM238 427h1v1h-1zM243 427h1v1h-1zM354 427h1v1h-1zM560 427h1v1h-1zM15 428h1v1h-1zM50 428h1v1h-1zM233 428h1v1h-1zM242 428h1v1h-1zM354 428h1v1h-1zM497 428h1v1h-1zM537 428h1v1h-1zM15 429h1v1h-1zM49 429h1v1h-1zM106 429h1v1h-1zM161 429h1v1h-1zM191 429h1v1h-1zM232 429h1v1h-1zM257 429h1v1h-1zM354 429h1v1h-1zM376 429h1v1h-1zM401 429h1v1h-1zM412 429h1v1h-1zM430 429h1v1h-1zM497 429h1v1h-1zM537 429h1v1h-1zM106 430h1v1h-1zM161 430h1v1h-1zM192 430h1v1h-1zM232 430h1v1h-1zM257 430h1v1h-1zM376 430h1v1h-1zM401 430h1v1h-1zM412 430h1v1h-1zM429 430h1v1h-1zM498 430h1v1h-1zM537 430h1v1h-1zM107 431h1v1h-1zM160 431h1v1h-1zM192 431h1v1h-1zM257 431h1v1h-1zM376 431h1v1h-1zM400 431h1v1h-1zM412 431h1v1h-1zM429 431h1v1h-1zM561 431h1v1h-1zM561 432h1v1h-1zM17 433h1v1h-1zM48 433h1v1h-1zM353 433h1v1h-1zM561 433h1v1h-1zM17 434h1v1h-1zM48 434h1v1h-1zM230 434h1v1h-1zM352 434h1v1h-1zM500 434h1v1h-1zM535 434h1v1h-1zM18 435h1v1h-1zM48 435h1v1h-1zM109 435h1v1h-1zM159 435h1v1h-1zM195 435h1v1h-1zM229 435h1v1h-1zM259 435h1v1h-1zM352 435h1v1h-1zM377 435h1v1h-1zM399 435h1v1h-1zM413 435h1v1h-1zM428 435h1v1h-1zM500 435h1v1h-1zM535 435h1v1h-1zM109 436h1v1h-1zM158 436h1v1h-1zM195 436h1v1h-1zM229 436h1v1h-1zM259 436h1v1h-1zM378 436h1v1h-1zM399 436h1v1h-1zM414 436h1v1h-1zM428 436h1v1h-1zM501 436h1v1h-1zM534 436h1v1h-1zM109 437h1v1h-1zM158 437h1v1h-1zM196 437h1v1h-1zM260 437h1v1h-1zM378 437h1v1h-1zM399 437h1v1h-1zM414 437h1v1h-1zM428 437h1v1h-1zM562 437h1v1h-1zM562 438h1v1h-1zM19 439h1v1h-1zM47 439h1v1h-1zM351 439h1v1h-1zM562 439h1v1h-1zM19 440h1v1h-1zM46 440h1v1h-1zM228 440h1v1h-1zM351 440h1v1h-1zM502 440h1v1h-1zM533 440h1v1h-1zM581 440h1v1h-1zM20 441h1v1h-1zM46 441h1v1h-1zM111 441h1v1h-1zM155 441h1v1h-1zM198 441h1v1h-1zM228 441h1v1h-1zM261 441h1v1h-1zM351 441h1v1h-1zM379 441h1v1h-1zM398 441h1v1h-1zM415 441h1v1h-1zM427 441h1v1h-1zM503 441h1v1h-1zM533 441h1v1h-1zM581 441h1v1h-1zM111 442h1v1h-1zM154 442h1v1h-1zM198 442h1v1h-1zM228 442h1v1h-1zM262 442h1v1h-1zM273 442h1v1h-1zM379 442h1v1h-1zM398 442h1v1h-1zM415 442h1v1h-1zM427 442h1v1h-1zM503 442h1v1h-1zM532 442h1v1h-1zM581 442h1v1h-1zM111 443h1v1h-1zM153 443h1v1h-1zM198 443h1v1h-1zM263 443h1v1h-1zM268 443h2v1h-2zM274 443h1v1h-1zM379 443h1v1h-1zM397 443h1v1h-1zM415 443h1v1h-1zM427 443h1v1h-1zM563 443h1v1h-1zM267 444h1v1h-1zM274 444h1v1h-1zM564 444h1v1h-1zM21 445h1v1h-1zM45 445h1v1h-1zM149 445h1v1h-1zM350 445h1v1h-1zM564 445h1v1h-1zM22 446h1v1h-1zM45 446h1v1h-1zM148 446h1v1h-1zM227 446h1v1h-1zM349 446h1v1h-1zM505 446h1v1h-1zM530 446h1v1h-1zM580 446h1v1h-1zM22 447h1v1h-1zM44 447h1v1h-1zM113 447h1v1h-1zM147 447h1v1h-1zM199 447h1v1h-1zM226 447h1v1h-1zM349 447h1v1h-1zM380 447h1v1h-1zM396 447h1v1h-1zM416 447h1v1h-1zM426 447h1v1h-1zM505 447h1v1h-1zM530 447h1v1h-1zM579 447h1v1h-1zM113 448h1v1h-1zM200 448h1v1h-1zM226 448h1v1h-1zM277 448h1v1h-1zM381 448h1v1h-1zM396 448h1v1h-1zM417 448h1v1h-1zM426 448h1v1h-1zM506 448h1v1h-1zM529 448h1v1h-1zM579 448h1v1h-1zM113 449h1v1h-1zM200 449h1v1h-1zM277 449h1v1h-1zM381 449h1v1h-1zM395 449h1v1h-1zM417 449h1v1h-1zM425 449h1v1h-1zM565 449h1v1h-1zM278 450h1v1h-1zM565 450h1v1h-1zM24 451h1v1h-1zM43 451h1v1h-1zM144 451h1v1h-1zM348 451h1v1h-1zM565 451h1v1h-1zM25 452h1v1h-1zM43 452h1v1h-1zM143 452h1v1h-1zM225 452h1v1h-1zM348 452h1v1h-1zM508 452h1v1h-1zM527 452h1v1h-1zM578 452h1v1h-1zM26 453h1v1h-1zM42 453h1v1h-1zM115 453h1v1h-1zM142 453h1v1h-1zM201 453h1v1h-1zM225 453h1v1h-1zM347 453h1v1h-1zM382 453h1v1h-1zM394 453h1v1h-1zM419 453h1v1h-1zM424 453h1v1h-1zM508 453h1v1h-1zM526 453h1v1h-1zM578 453h1v1h-1zM115 454h1v1h-1zM201 454h1v1h-1zM225 454h1v1h-1zM279 454h1v1h-1zM383 454h1v1h-1zM394 454h1v1h-1zM419 454h1v1h-1zM423 454h1v1h-1zM509 454h1v1h-1zM526 454h1v1h-1zM578 454h1v1h-1zM115 455h1v1h-1zM202 455h1v1h-1zM280 455h1v1h-1zM327 455h1v1h-1zM383 455h1v1h-1zM393 455h1v1h-1zM420 455h1v1h-1zM422 455h1v1h-1zM567 455h1v1h-1zM280 456h1v1h-1zM325 456h2v1h-2zM331 456h1v1h-1zM567 456h1v1h-1zM28 457h1v1h-1zM41 457h1v1h-1zM139 457h1v1h-1zM332 457h2v1h-2zM346 457h1v1h-1zM567 457h1v1h-1zM29 458h1v1h-1zM40 458h1v1h-1zM139 458h1v1h-1zM223 458h1v1h-1zM346 458h1v1h-1zM511 458h1v1h-1zM524 458h1v1h-1zM577 458h1v1h-1zM30 459h1v1h-1zM39 459h1v1h-1zM117 459h1v1h-1zM138 459h1v1h-1zM203 459h1v1h-1zM223 459h1v1h-1zM346 459h1v1h-1zM384 459h1v1h-1zM391 459h1v1h-1zM511 459h1v1h-1zM523 459h1v1h-1zM577 459h1v1h-1zM117 460h1v1h-1zM132 460h3v1h-3zM203 460h1v1h-1zM222 460h1v1h-1zM282 460h1v1h-1zM323 460h1v1h-1zM385 460h1v1h-1zM390 460h1v1h-1zM511 460h1v1h-1zM523 460h1v1h-1zM576 460h1v1h-1zM34 461h1v1h-1zM118 461h1v1h-1zM203 461h1v1h-1zM282 461h1v1h-1zM322 461h1v1h-1zM336 461h1v1h-1zM385 461h1v1h-1zM389 461h1v1h-1zM568 461h1v1h-1zM35 462h2v1h-2zM282 462h1v1h-1zM322 462h1v1h-1zM337 462h2v1h-2zM343 462h2v1h-2zM569 462h1v1h-1zM128 463h1v1h-1zM342 463h1v1h-1zM569 463h1v1h-1zM127 464h1v1h-1zM221 464h1v1h-1zM513 464h1v1h-1zM520 464h2v1h-2zM574 464h1v1h-1zM120 465h1v1h-1zM126 465h1v1h-1zM204 465h1v1h-1zM220 465h1v1h-1zM514 465h2v1h-2zM519 465h1v1h-1zM574 465h1v1h-1zM121 466h2v1h-2zM205 466h1v1h-1zM220 466h1v1h-1zM284 466h1v1h-1zM319 466h1v1h-1zM573 466h1v1h-1zM205 467h1v1h-1zM284 467h1v1h-1zM305 467h2v1h-2zM318 467h1v1h-1zM285 468h1v1h-1zM307 468h1v1h-1zM317 468h1v1h-1zM301 469h1v1h-1zM311 469h1v1h-1zM218 470h1v1h-1zM300 470h1v1h-1zM312 470h2v1h-2zM207 471h1v1h-1zM217 471h1v1h-1zM299 471h1v1h-1zM207 472h1v1h-1zM216 472h1v1h-1zM287 472h1v1h-1zM208 473h1v1h-1zM288 473h1v1h-1zM289 474h1v1h-1zM294 474h2v1h-2zM211 475h2v1h-2zM293 475h1v1h-1zM210 476h1v1h-1z"/><path fill="#0000ff" d="M444 403h2v1h-2zM544 403h6v1h-6zM442 404h5v1h-5zM542 404h8v1h-8zM55 405h4v1h-4zM441 405h7v1h-7zM541 405h4v1h-4zM548 405h3v1h-3zM53 406h9v1h-9zM435 406h8v1h-8zM446 406h3v1h-3zM460 406h2v1h-2zM540 406h3v1h-3zM549 406h2v1h-2zM52 407h4v1h-4zM58 407h5v1h-5zM428 407h3v1h-3zM433 407h9v1h-9zM447 407h4v1h-4zM458 407h5v1h-5zM540 407h2v1h-2zM549 407h3v1h-3zM51 408h3v1h-3zM61 408h3v1h-3zM428 408h8v1h-8zM448 408h7v1h-7zM457 408h6v1h-6zM539 408h3v1h-3zM550 408h2v1h-2zM50 409h3v1h-3zM62 409h3v1h-3zM428 409h6v1h-6zM450 409h9v1h-9zM461 409h3v1h-3zM539 409h2v1h-2zM550 409h3v1h-3zM50 410h2v1h-2zM63 410h3v1h-3zM172 410h3v1h-3zM356 410h7v1h-7zM428 410h2v1h-2zM454 410h4v1h-4zM462 410h3v1h-3zM538 410h3v1h-3zM551 410h2v1h-2zM49 411h3v1h-3zM64 411h2v1h-2zM171 411h7v1h-7zM244 411h3v1h-3zM355 411h11v1h-11zM427 411h3v1h-3zM463 411h2v1h-2zM484 411h2v1h-2zM538 411h2v1h-2zM551 411h3v1h-3zM48 412h3v1h-3zM64 412h3v1h-3zM171 412h2v1h-2zM174 412h5v1h-5zM244 412h6v1h-6zM355 412h2v1h-2zM362 412h5v1h-5zM427 412h2v1h-2zM463 412h3v1h-3zM484 412h2v1h-2zM537 412h3v1h-3zM552 412h2v1h-2zM48 413h2v1h-2zM65 413h2v1h-2zM170 413h3v1h-3zM177 413h3v1h-3zM244 413h6v1h-6zM354 413h3v1h-3zM365 413h3v1h-3zM400 413h2v1h-2zM427 413h2v1h-2zM464 413h3v1h-3zM483 413h4v1h-4zM537 413h2v1h-2zM552 413h2v1h-2zM0 414h2v1h-2zM48 414h2v1h-2zM65 414h2v1h-2zM80 414h2v1h-2zM170 414h2v1h-2zM178 414h2v1h-2zM243 414h3v1h-3zM248 414h2v1h-2zM353 414h3v1h-3zM366 414h3v1h-3zM400 414h3v1h-3zM427 414h2v1h-2zM465 414h3v1h-3zM483 414h4v1h-4zM536 414h3v1h-3zM552 414h2v1h-2zM0 415h3v1h-3zM47 415h3v1h-3zM65 415h3v1h-3zM78 415h4v1h-4zM169 415h3v1h-3zM178 415h3v1h-3zM243 415h2v1h-2zM248 415h3v1h-3zM353 415h2v1h-2zM367 415h3v1h-3zM400 415h5v1h-5zM427 415h2v1h-2zM466 415h2v1h-2zM483 415h4v1h-4zM536 415h2v1h-2zM552 415h3v1h-3zM580 415h2v1h-2zM1 416h3v1h-3zM47 416h2v1h-2zM66 416h2v1h-2zM77 416h6v1h-6zM169 416h2v1h-2zM179 416h3v1h-3zM243 416h2v1h-2zM249 416h2v1h-2zM352 416h3v1h-3zM368 416h2v1h-2zM399 416h7v1h-7zM427 416h2v1h-2zM466 416h3v1h-3zM482 416h6v1h-6zM536 416h2v1h-2zM553 416h2v1h-2zM580 416h2v1h-2zM2 417h3v1h-3zM47 417h2v1h-2zM66 417h2v1h-2zM76 417h3v1h-3zM81 417h2v1h-2zM160 417h11v1h-11zM180 417h2v1h-2zM228 417h2v1h-2zM243 417h2v1h-2zM249 417h2v1h-2zM351 417h3v1h-3zM368 417h3v1h-3zM399 417h2v1h-2zM404 417h2v1h-2zM427 417h2v1h-2zM467 417h3v1h-3zM476 417h2v1h-2zM482 417h2v1h-2zM486 417h2v1h-2zM535 417h3v1h-3zM553 417h2v1h-2zM580 417h2v1h-2zM3 418h7v1h-7zM47 418h2v1h-2zM66 418h3v1h-3zM75 418h3v1h-3zM81 418h3v1h-3zM160 418h10v1h-10zM180 418h3v1h-3zM228 418h2v1h-2zM242 418h3v1h-3zM249 418h2v1h-2zM351 418h2v1h-2zM369 418h2v1h-2zM399 418h2v1h-2zM404 418h3v1h-3zM426 418h3v1h-3zM468 418h2v1h-2zM476 418h3v1h-3zM482 418h2v1h-2zM486 418h3v1h-3zM535 418h2v1h-2zM553 418h2v1h-2zM580 418h2v1h-2zM4 419h6v1h-6zM46 419h3v1h-3zM67 419h2v1h-2zM74 419h3v1h-3zM82 419h2v1h-2zM96 419h2v1h-2zM159 419h3v1h-3zM181 419h2v1h-2zM228 419h3v1h-3zM242 419h2v1h-2zM249 419h2v1h-2zM350 419h3v1h-3zM369 419h2v1h-2zM399 419h2v1h-2zM405 419h2v1h-2zM426 419h2v1h-2zM468 419h3v1h-3zM475 419h4v1h-4zM481 419h3v1h-3zM487 419h2v1h-2zM535 419h2v1h-2zM553 419h2v1h-2zM579 419h3v1h-3zM8 420h3v1h-3zM46 420h2v1h-2zM67 420h2v1h-2zM74 420h2v1h-2zM82 420h2v1h-2zM95 420h4v1h-4zM159 420h2v1h-2zM181 420h2v1h-2zM227 420h4v1h-4zM242 420h2v1h-2zM249 420h3v1h-3zM350 420h2v1h-2zM369 420h3v1h-3zM398 420h3v1h-3zM405 420h2v1h-2zM426 420h2v1h-2zM469 420h2v1h-2zM475 420h5v1h-5zM481 420h2v1h-2zM487 420h2v1h-2zM535 420h2v1h-2zM553 420h3v1h-3zM579 420h2v1h-2zM9 421h2v1h-2zM46 421h2v1h-2zM67 421h3v1h-3zM73 421h3v1h-3zM82 421h3v1h-3zM95 421h4v1h-4zM159 421h2v1h-2zM181 421h2v1h-2zM227 421h5v1h-5zM242 421h2v1h-2zM250 421h2v1h-2zM349 421h3v1h-3zM370 421h2v1h-2zM398 421h2v1h-2zM405 421h3v1h-3zM426 421h2v1h-2zM469 421h2v1h-2zM475 421h2v1h-2zM478 421h5v1h-5zM487 421h3v1h-3zM534 421h3v1h-3zM554 421h2v1h-2zM579 421h2v1h-2zM9 422h2v1h-2zM46 422h2v1h-2zM68 422h7v1h-7zM83 422h2v1h-2zM94 422h6v1h-6zM158 422h3v1h-3zM181 422h3v1h-3zM227 422h2v1h-2zM230 422h2v1h-2zM241 422h3v1h-3zM250 422h2v1h-2zM349 422h2v1h-2zM370 422h2v1h-2zM398 422h2v1h-2zM406 422h2v1h-2zM426 422h2v1h-2zM469 422h2v1h-2zM475 422h2v1h-2zM479 422h4v1h-4zM488 422h3v1h-3zM534 422h2v1h-2zM554 422h2v1h-2zM579 422h2v1h-2zM9 423h2v1h-2zM45 423h3v1h-3zM68 423h6v1h-6zM83 423h3v1h-3zM93 423h3v1h-3zM98 423h2v1h-2zM158 423h2v1h-2zM182 423h2v1h-2zM227 423h2v1h-2zM230 423h3v1h-3zM241 423h2v1h-2zM250 423h2v1h-2zM348 423h3v1h-3zM370 423h3v1h-3zM398 423h2v1h-2zM406 423h2v1h-2zM426 423h2v1h-2zM469 423h3v1h-3zM474 423h3v1h-3zM479 423h3v1h-3zM488 423h6v1h-6zM534 423h2v1h-2zM554 423h2v1h-2zM579 423h2v1h-2zM9 424h3v1h-3zM45 424h2v1h-2zM84 424h3v1h-3zM93 424h2v1h-2zM98 424h3v1h-3zM158 424h2v1h-2zM182 424h2v1h-2zM227 424h2v1h-2zM231 424h2v1h-2zM241 424h2v1h-2zM250 424h3v1h-3zM348 424h2v1h-2zM371 424h2v1h-2zM397 424h3v1h-3zM406 424h2v1h-2zM425 424h3v1h-3zM470 424h2v1h-2zM474 424h2v1h-2zM480 424h2v1h-2zM490 424h4v1h-4zM534 424h2v1h-2zM554 424h3v1h-3zM579 424h2v1h-2zM10 425h2v1h-2zM45 425h2v1h-2zM84 425h11v1h-11zM99 425h2v1h-2zM157 425h3v1h-3zM182 425h3v1h-3zM226 425h3v1h-3zM231 425h3v1h-3zM241 425h2v1h-2zM251 425h2v1h-2zM348 425h2v1h-2zM371 425h2v1h-2zM397 425h2v1h-2zM406 425h3v1h-3zM425 425h2v1h-2zM470 425h2v1h-2zM474 425h2v1h-2zM492 425h2v1h-2zM534 425h2v1h-2zM555 425h2v1h-2zM578 425h3v1h-3zM10 426h2v1h-2zM45 426h2v1h-2zM86 426h8v1h-8zM99 426h3v1h-3zM157 426h2v1h-2zM183 426h2v1h-2zM226 426h2v1h-2zM232 426h2v1h-2zM240 426h3v1h-3zM251 426h2v1h-2zM348 426h2v1h-2zM371 426h3v1h-3zM397 426h2v1h-2zM407 426h2v1h-2zM425 426h2v1h-2zM470 426h6v1h-6zM492 426h3v1h-3zM533 426h3v1h-3zM555 426h2v1h-2zM578 426h2v1h-2zM10 427h2v1h-2zM44 427h3v1h-3zM100 427h2v1h-2zM157 427h2v1h-2zM183 427h2v1h-2zM226 427h2v1h-2zM232 427h3v1h-3zM240 427h2v1h-2zM251 427h2v1h-2zM348 427h2v1h-2zM372 427h2v1h-2zM397 427h2v1h-2zM407 427h2v1h-2zM425 427h2v1h-2zM471 427h4v1h-4zM493 427h2v1h-2zM533 427h2v1h-2zM555 427h2v1h-2zM578 427h2v1h-2zM10 428h3v1h-3zM44 428h2v1h-2zM100 428h3v1h-3zM156 428h3v1h-3zM183 428h2v1h-2zM226 428h2v1h-2zM233 428h2v1h-2zM240 428h2v1h-2zM251 428h2v1h-2zM347 428h3v1h-3zM372 428h2v1h-2zM396 428h3v1h-3zM407 428h3v1h-3zM425 428h2v1h-2zM471 428h4v1h-4zM493 428h2v1h-2zM533 428h2v1h-2zM555 428h2v1h-2zM578 428h2v1h-2zM11 429h2v1h-2zM44 429h2v1h-2zM101 429h2v1h-2zM156 429h2v1h-2zM183 429h7v1h-7zM225 429h3v1h-3zM233 429h3v1h-3zM239 429h3v1h-3zM251 429h3v1h-3zM347 429h2v1h-2zM372 429h2v1h-2zM396 429h2v1h-2zM408 429h2v1h-2zM425 429h2v1h-2zM471 429h4v1h-4zM493 429h2v1h-2zM533 429h2v1h-2zM555 429h3v1h-3zM578 429h2v1h-2zM11 430h2v1h-2zM44 430h2v1h-2zM101 430h3v1h-3zM156 430h2v1h-2zM184 430h7v1h-7zM225 430h2v1h-2zM234 430h2v1h-2zM238 430h3v1h-3zM252 430h2v1h-2zM347 430h2v1h-2zM372 430h2v1h-2zM396 430h2v1h-2zM408 430h2v1h-2zM425 430h2v1h-2zM471 430h4v1h-4zM493 430h3v1h-3zM532 430h3v1h-3zM556 430h2v1h-2zM578 430h2v1h-2zM11 431h2v1h-2zM44 431h2v1h-2zM102 431h2v1h-2zM155 431h3v1h-3zM184 431h3v1h-3zM189 431h2v1h-2zM225 431h2v1h-2zM234 431h3v1h-3zM238 431h2v1h-2zM252 431h2v1h-2zM347 431h2v1h-2zM372 431h3v1h-3zM396 431h2v1h-2zM408 431h2v1h-2zM424 431h3v1h-3zM472 431h2v1h-2zM494 431h2v1h-2zM532 431h2v1h-2zM556 431h2v1h-2zM578 431h2v1h-2zM11 432h3v1h-3zM43 432h3v1h-3zM102 432h3v1h-3zM155 432h2v1h-2zM189 432h3v1h-3zM225 432h2v1h-2zM235 432h5v1h-5zM252 432h2v1h-2zM347 432h2v1h-2zM373 432h2v1h-2zM395 432h3v1h-3zM408 432h3v1h-3zM424 432h2v1h-2zM472 432h2v1h-2zM494 432h2v1h-2zM532 432h2v1h-2zM556 432h2v1h-2zM577 432h3v1h-3zM12 433h2v1h-2zM43 433h2v1h-2zM103 433h2v1h-2zM155 433h2v1h-2zM190 433h3v1h-3zM225 433h2v1h-2zM235 433h4v1h-4zM252 433h3v1h-3zM347 433h2v1h-2zM373 433h2v1h-2zM395 433h2v1h-2zM409 433h2v1h-2zM424 433h2v1h-2zM494 433h2v1h-2zM532 433h2v1h-2zM556 433h2v1h-2zM577 433h2v1h-2zM12 434h2v1h-2zM43 434h2v1h-2zM103 434h3v1h-3zM154 434h3v1h-3zM191 434h2v1h-2zM224 434h3v1h-3zM236 434h2v1h-2zM253 434h2v1h-2zM347 434h2v1h-2zM373 434h2v1h-2zM395 434h2v1h-2zM409 434h2v1h-2zM424 434h2v1h-2zM494 434h2v1h-2zM531 434h3v1h-3zM556 434h3v1h-3zM577 434h2v1h-2zM12 435h2v1h-2zM43 435h2v1h-2zM104 435h2v1h-2zM154 435h2v1h-2zM191 435h3v1h-3zM224 435h2v1h-2zM253 435h2v1h-2zM347 435h2v1h-2zM373 435h2v1h-2zM395 435h2v1h-2zM409 435h2v1h-2zM424 435h2v1h-2zM494 435h3v1h-3zM531 435h2v1h-2zM557 435h2v1h-2zM577 435h2v1h-2zM12 436h3v1h-3zM42 436h3v1h-3zM104 436h2v1h-2zM154 436h2v1h-2zM192 436h2v1h-2zM224 436h2v1h-2zM253 436h2v1h-2zM346 436h3v1h-3zM373 436h2v1h-2zM394 436h3v1h-3zM409 436h2v1h-2zM424 436h2v1h-2zM495 436h2v1h-2zM530 436h3v1h-3zM557 436h2v1h-2zM577 436h2v1h-2zM13 437h2v1h-2zM42 437h2v1h-2zM104 437h3v1h-3zM153 437h3v1h-3zM192 437h3v1h-3zM224 437h2v1h-2zM253 437h3v1h-3zM346 437h2v1h-2zM373 437h2v1h-2zM394 437h2v1h-2zM409 437h2v1h-2zM423 437h3v1h-3zM495 437h2v1h-2zM530 437h2v1h-2zM557 437h2v1h-2zM577 437h2v1h-2zM13 438h2v1h-2zM42 438h2v1h-2zM105 438h2v1h-2zM153 438h2v1h-2zM193 438h2v1h-2zM224 438h2v1h-2zM254 438h2v1h-2zM346 438h2v1h-2zM373 438h2v1h-2zM394 438h2v1h-2zM409 438h3v1h-3zM423 438h2v1h-2zM495 438h2v1h-2zM529 438h3v1h-3zM557 438h2v1h-2zM576 438h3v1h-3zM13 439h3v1h-3zM42 439h2v1h-2zM105 439h2v1h-2zM153 439h2v1h-2zM193 439h2v1h-2zM223 439h3v1h-3zM254 439h2v1h-2zM346 439h2v1h-2zM373 439h3v1h-3zM394 439h2v1h-2zM410 439h2v1h-2zM423 439h2v1h-2zM495 439h3v1h-3zM529 439h2v1h-2zM557 439h2v1h-2zM576 439h2v1h-2zM14 440h2v1h-2zM41 440h3v1h-3zM105 440h3v1h-3zM144 440h2v1h-2zM152 440h3v1h-3zM193 440h2v1h-2zM223 440h2v1h-2zM254 440h2v1h-2zM266 440h4v1h-4zM346 440h2v1h-2zM374 440h2v1h-2zM393 440h3v1h-3zM410 440h2v1h-2zM423 440h2v1h-2zM496 440h2v1h-2zM528 440h3v1h-3zM557 440h3v1h-3zM576 440h2v1h-2zM14 441h3v1h-3zM41 441h2v1h-2zM106 441h2v1h-2zM143 441h4v1h-4zM152 441h2v1h-2zM193 441h3v1h-3zM223 441h2v1h-2zM254 441h3v1h-3zM264 441h8v1h-8zM346 441h2v1h-2zM374 441h2v1h-2zM393 441h2v1h-2zM410 441h2v1h-2zM422 441h3v1h-3zM496 441h3v1h-3zM528 441h2v1h-2zM558 441h2v1h-2zM576 441h2v1h-2zM15 442h2v1h-2zM41 442h2v1h-2zM106 442h2v1h-2zM143 442h4v1h-4zM151 442h3v1h-3zM194 442h2v1h-2zM223 442h2v1h-2zM255 442h2v1h-2zM263 442h4v1h-4zM269 442h5v1h-5zM346 442h2v1h-2zM374 442h2v1h-2zM393 442h2v1h-2zM410 442h2v1h-2zM422 442h2v1h-2zM496 442h6v1h-6zM527 442h3v1h-3zM558 442h2v1h-2zM576 442h2v1h-2zM15 443h2v1h-2zM41 443h2v1h-2zM106 443h3v1h-3zM142 443h6v1h-6zM150 443h3v1h-3zM194 443h2v1h-2zM222 443h3v1h-3zM255 443h2v1h-2zM262 443h3v1h-3zM271 443h3v1h-3zM346 443h2v1h-2zM374 443h2v1h-2zM393 443h2v1h-2zM410 443h2v1h-2zM422 443h2v1h-2zM498 443h4v1h-4zM527 443h2v1h-2zM558 443h2v1h-2zM576 443h2v1h-2zM15 444h3v1h-3zM40 444h3v1h-3zM107 444h2v1h-2zM142 444h2v1h-2zM146 444h3v1h-3zM150 444h2v1h-2zM194 444h2v1h-2zM222 444h2v1h-2zM255 444h2v1h-2zM262 444h2v1h-2zM272 444h2v1h-2zM345 444h3v1h-3zM374 444h2v1h-2zM392 444h3v1h-3zM410 444h3v1h-3zM422 444h2v1h-2zM500 444h3v1h-3zM526 444h3v1h-3zM558 444h2v1h-2zM575 444h3v1h-3zM16 445h2v1h-2zM40 445h2v1h-2zM107 445h2v1h-2zM141 445h3v1h-3zM147 445h5v1h-5zM194 445h3v1h-3zM222 445h2v1h-2zM255 445h3v1h-3zM261 445h3v1h-3zM272 445h3v1h-3zM345 445h2v1h-2zM374 445h2v1h-2zM392 445h2v1h-2zM411 445h2v1h-2zM421 445h3v1h-3zM501 445h2v1h-2zM525 445h3v1h-3zM558 445h3v1h-3zM575 445h2v1h-2zM16 446h2v1h-2zM40 446h2v1h-2zM107 446h3v1h-3zM141 446h2v1h-2zM147 446h4v1h-4zM195 446h2v1h-2zM222 446h2v1h-2zM256 446h7v1h-7zM273 446h2v1h-2zM345 446h2v1h-2zM374 446h2v1h-2zM392 446h2v1h-2zM411 446h2v1h-2zM421 446h2v1h-2zM501 446h2v1h-2zM525 446h2v1h-2zM559 446h2v1h-2zM575 446h2v1h-2zM16 447h3v1h-3zM40 447h2v1h-2zM108 447h2v1h-2zM140 447h3v1h-3zM148 447h2v1h-2zM195 447h2v1h-2zM222 447h2v1h-2zM256 447h6v1h-6zM273 447h2v1h-2zM345 447h2v1h-2zM374 447h3v1h-3zM391 447h3v1h-3zM411 447h2v1h-2zM421 447h2v1h-2zM501 447h2v1h-2zM524 447h3v1h-3zM559 447h2v1h-2zM575 447h2v1h-2zM17 448h2v1h-2zM39 448h3v1h-3zM108 448h2v1h-2zM140 448h2v1h-2zM195 448h2v1h-2zM221 448h3v1h-3zM273 448h2v1h-2zM345 448h2v1h-2zM375 448h2v1h-2zM391 448h2v1h-2zM411 448h2v1h-2zM421 448h2v1h-2zM501 448h3v1h-3zM523 448h3v1h-3zM559 448h2v1h-2zM575 448h2v1h-2zM17 449h3v1h-3zM39 449h2v1h-2zM108 449h3v1h-3zM139 449h3v1h-3zM195 449h3v1h-3zM221 449h2v1h-2zM273 449h3v1h-3zM345 449h2v1h-2zM375 449h2v1h-2zM391 449h2v1h-2zM411 449h2v1h-2zM420 449h3v1h-3zM502 449h2v1h-2zM523 449h2v1h-2zM559 449h2v1h-2zM574 449h3v1h-3zM18 450h2v1h-2zM39 450h2v1h-2zM109 450h2v1h-2zM139 450h2v1h-2zM196 450h2v1h-2zM221 450h2v1h-2zM274 450h2v1h-2zM324 450h2v1h-2zM345 450h2v1h-2zM375 450h2v1h-2zM390 450h3v1h-3zM411 450h3v1h-3zM420 450h2v1h-2zM502 450h2v1h-2zM522 450h3v1h-3zM559 450h2v1h-2zM574 450h2v1h-2zM18 451h2v1h-2zM38 451h3v1h-3zM109 451h2v1h-2zM139 451h2v1h-2zM196 451h2v1h-2zM221 451h2v1h-2zM274 451h2v1h-2zM323 451h4v1h-4zM345 451h2v1h-2zM375 451h2v1h-2zM390 451h2v1h-2zM412 451h2v1h-2zM420 451h2v1h-2zM502 451h3v1h-3zM522 451h2v1h-2zM559 451h3v1h-3zM574 451h2v1h-2zM18 452h3v1h-3zM38 452h2v1h-2zM109 452h3v1h-3zM138 452h3v1h-3zM196 452h2v1h-2zM220 452h3v1h-3zM274 452h2v1h-2zM323 452h4v1h-4zM344 452h3v1h-3zM375 452h2v1h-2zM390 452h2v1h-2zM412 452h2v1h-2zM420 452h2v1h-2zM503 452h2v1h-2zM521 452h3v1h-3zM560 452h2v1h-2zM574 452h2v1h-2zM19 453h2v1h-2zM38 453h2v1h-2zM110 453h2v1h-2zM138 453h2v1h-2zM196 453h3v1h-3zM220 453h2v1h-2zM274 453h2v1h-2zM322 453h6v1h-6zM344 453h2v1h-2zM375 453h2v1h-2zM389 453h3v1h-3zM412 453h2v1h-2zM420 453h2v1h-2zM503 453h2v1h-2zM521 453h2v1h-2zM560 453h2v1h-2zM574 453h2v1h-2zM19 454h3v1h-3zM37 454h3v1h-3zM110 454h2v1h-2zM137 454h3v1h-3zM197 454h2v1h-2zM220 454h2v1h-2zM274 454h3v1h-3zM321 454h3v1h-3zM326 454h2v1h-2zM344 454h2v1h-2zM375 454h2v1h-2zM389 454h2v1h-2zM412 454h3v1h-3zM419 454h3v1h-3zM503 454h2v1h-2zM520 454h3v1h-3zM560 454h2v1h-2zM574 454h2v1h-2zM20 455h6v1h-6zM37 455h2v1h-2zM110 455h2v1h-2zM137 455h2v1h-2zM197 455h2v1h-2zM220 455h2v1h-2zM275 455h2v1h-2zM321 455h2v1h-2zM326 455h3v1h-3zM344 455h2v1h-2zM375 455h3v1h-3zM389 455h2v1h-2zM413 455h2v1h-2zM419 455h2v1h-2zM503 455h3v1h-3zM520 455h2v1h-2zM560 455h3v1h-3zM573 455h3v1h-3zM20 456h7v1h-7zM37 456h2v1h-2zM110 456h3v1h-3zM137 456h2v1h-2zM197 456h2v1h-2zM219 456h3v1h-3zM275 456h2v1h-2zM320 456h3v1h-3zM327 456h2v1h-2zM344 456h2v1h-2zM376 456h2v1h-2zM388 456h3v1h-3zM413 456h2v1h-2zM419 456h2v1h-2zM504 456h2v1h-2zM519 456h3v1h-3zM561 456h2v1h-2zM573 456h2v1h-2zM25 457h2v1h-2zM36 457h3v1h-3zM111 457h2v1h-2zM136 457h3v1h-3zM197 457h2v1h-2zM219 457h2v1h-2zM275 457h2v1h-2zM318 457h4v1h-4zM327 457h3v1h-3zM343 457h3v1h-3zM376 457h2v1h-2zM388 457h2v1h-2zM413 457h2v1h-2zM419 457h2v1h-2zM504 457h3v1h-3zM519 457h2v1h-2zM561 457h2v1h-2zM573 457h2v1h-2zM25 458h3v1h-3zM36 458h2v1h-2zM111 458h2v1h-2zM135 458h3v1h-3zM197 458h2v1h-2zM219 458h2v1h-2zM275 458h3v1h-3zM317 458h4v1h-4zM328 458h3v1h-3zM342 458h3v1h-3zM376 458h2v1h-2zM387 458h3v1h-3zM413 458h3v1h-3zM418 458h3v1h-3zM505 458h3v1h-3zM518 458h3v1h-3zM561 458h3v1h-3zM573 458h2v1h-2zM26 459h3v1h-3zM35 459h3v1h-3zM111 459h3v1h-3zM126 459h5v1h-5zM133 459h5v1h-5zM197 459h3v1h-3zM218 459h3v1h-3zM276 459h2v1h-2zM316 459h3v1h-3zM329 459h3v1h-3zM341 459h3v1h-3zM376 459h3v1h-3zM387 459h2v1h-2zM414 459h2v1h-2zM418 459h2v1h-2zM506 459h2v1h-2zM518 459h2v1h-2zM562 459h2v1h-2zM573 459h2v1h-2zM27 460h2v1h-2zM35 460h2v1h-2zM112 460h2v1h-2zM124 460h12v1h-12zM198 460h2v1h-2zM218 460h2v1h-2zM276 460h2v1h-2zM316 460h2v1h-2zM330 460h3v1h-3zM340 460h3v1h-3zM377 460h4v1h-4zM386 460h3v1h-3zM414 460h2v1h-2zM418 460h2v1h-2zM506 460h3v1h-3zM517 460h3v1h-3zM562 460h2v1h-2zM572 460h3v1h-3zM27 461h3v1h-3zM34 461h3v1h-3zM112 461h2v1h-2zM123 461h4v1h-4zM130 461h4v1h-4zM198 461h2v1h-2zM218 461h2v1h-2zM276 461h2v1h-2zM315 461h3v1h-3zM331 461h3v1h-3zM339 461h3v1h-3zM378 461h4v1h-4zM386 461h2v1h-2zM414 461h2v1h-2zM418 461h2v1h-2zM507 461h3v1h-3zM517 461h2v1h-2zM562 461h3v1h-3zM572 461h2v1h-2zM28 462h3v1h-3zM34 462h2v1h-2zM112 462h3v1h-3zM122 462h3v1h-3zM198 462h2v1h-2zM217 462h3v1h-3zM276 462h3v1h-3zM315 462h2v1h-2zM332 462h3v1h-3zM339 462h2v1h-2zM380 462h3v1h-3zM385 462h3v1h-3zM414 462h6v1h-6zM508 462h2v1h-2zM516 462h3v1h-3zM563 462h2v1h-2zM572 462h2v1h-2zM29 463h3v1h-3zM33 463h3v1h-3zM113 463h2v1h-2zM122 463h2v1h-2zM198 463h2v1h-2zM217 463h2v1h-2zM277 463h2v1h-2zM315 463h2v1h-2zM333 463h2v1h-2zM338 463h3v1h-3zM381 463h6v1h-6zM415 463h4v1h-4zM508 463h3v1h-3zM516 463h2v1h-2zM563 463h2v1h-2zM571 463h3v1h-3zM30 464h5v1h-5zM113 464h2v1h-2zM121 464h3v1h-3zM198 464h2v1h-2zM217 464h2v1h-2zM277 464h3v1h-3zM315 464h2v1h-2zM333 464h3v1h-3zM338 464h2v1h-2zM382 464h5v1h-5zM415 464h4v1h-4zM509 464h2v1h-2zM516 464h2v1h-2zM563 464h3v1h-3zM571 464h2v1h-2zM31 465h4v1h-4zM113 465h3v1h-3zM120 465h3v1h-3zM198 465h3v1h-3zM216 465h3v1h-3zM278 465h2v1h-2zM314 465h3v1h-3zM334 465h6v1h-6zM384 465h2v1h-2zM415 465h4v1h-4zM509 465h2v1h-2zM515 465h3v1h-3zM564 465h2v1h-2zM570 465h3v1h-3zM32 466h2v1h-2zM114 466h2v1h-2zM119 466h3v1h-3zM199 466h2v1h-2zM216 466h2v1h-2zM278 466h3v1h-3zM299 466h7v1h-7zM314 466h2v1h-2zM335 466h4v1h-4zM415 466h4v1h-4zM509 466h3v1h-3zM515 466h2v1h-2zM564 466h3v1h-3zM570 466h2v1h-2zM114 467h3v1h-3zM119 467h2v1h-2zM199 467h2v1h-2zM215 467h3v1h-3zM279 467h2v1h-2zM297 467h10v1h-10zM314 467h2v1h-2zM335 467h4v1h-4zM416 467h2v1h-2zM510 467h2v1h-2zM514 467h3v1h-3zM565 467h3v1h-3zM569 467h3v1h-3zM115 468h2v1h-2zM118 468h3v1h-3zM199 468h2v1h-2zM214 468h3v1h-3zM279 468h3v1h-3zM296 468h4v1h-4zM305 468h3v1h-3zM313 468h3v1h-3zM336 468h2v1h-2zM416 468h2v1h-2zM510 468h3v1h-3zM514 468h2v1h-2zM566 468h5v1h-5zM115 469h5v1h-5zM199 469h2v1h-2zM214 469h2v1h-2zM280 469h2v1h-2zM295 469h3v1h-3zM306 469h3v1h-3zM313 469h2v1h-2zM511 469h5v1h-5zM567 469h4v1h-4zM115 470h4v1h-4zM199 470h2v1h-2zM213 470h3v1h-3zM280 470h3v1h-3zM294 470h3v1h-3zM307 470h3v1h-3zM313 470h2v1h-2zM511 470h4v1h-4zM568 470h2v1h-2zM116 471h3v1h-3zM199 471h3v1h-3zM212 471h3v1h-3zM281 471h2v1h-2zM294 471h2v1h-2zM308 471h3v1h-3zM313 471h2v1h-2zM511 471h4v1h-4zM116 472h2v1h-2zM200 472h2v1h-2zM211 472h3v1h-3zM281 472h3v1h-3zM293 472h3v1h-3zM309 472h6v1h-6zM512 472h2v1h-2zM200 473h2v1h-2zM210 473h3v1h-3zM282 473h3v1h-3zM291 473h4v1h-4zM310 473h4v1h-4zM512 473h2v1h-2zM200 474h3v1h-3zM209 474h3v1h-3zM283 474h2v1h-2zM289 474h5v1h-5zM312 474h2v1h-2zM201 475h3v1h-3zM207 475h4v1h-4zM283 475h9v1h-9zM202 476h8v1h-8zM284 476h6v1h-6zM203 477h5v1h-5zM204 478h2v1h-2z"/><polygon points="1,475 1,481 7,481" fill="#c0c0c0"/><rect x="0" y="0" width="655" height="1"/><rect x="0" y="307" width="655" height="1"/><rect x="0" y="0" width="1" height="308"/><rect x="654" y="0" width="1" height="308"/><rect x="0" y="309" width="655" height="1"/><rect x="0" y="394" width="655" height="1"/><rect x="0" y="309" width="1" height="86"/><rect x="654" y="309" width="1" height="86"/><rect x="0" y="396" width="655" height="1"/><rect x="0" y="481" width="655" height="1"/><rect x="0" y="396" width="1" height="86"/><rect x="654" y="396" width="1" height="86"/><rect x="654" y="189" width="1" height="1" fill="#d8d8d8"/><rect x="655" y="7" width="2" height="1"/><text lengthAdjust="spacingAndGlyphs" x="660" y="11" textLength="34">0.60395</text><rect x="655" y="40" width="2" height="1"/><text lengthAdjust="spacingAndGlyphs" x="660" y="44" textLength="34">0.60080</text><rect x="655" y="73" width="2" height="1"/><text lengthAdjust="spacingAndGlyphs" x="660" y="77" textLength="34">0.59765</text><rect x="655" y="106" width="2" height="1"/><text lengthAdjust="spacingAndGlyphs" x="660" y="110" textLength="34">0.59455</text><rect x="655" y="139" width="2" height="1"/><text lengthAdjust="spacingAndGlyphs" x="660" y="143" textLength="34">0.59140</text><rect x="655" y="172" width="2" height="1"/><text lengthAdjust="spacingAndGlyphs" x="660" y="176" textLength="34">0.58825</text><rect x="655" y="205" width="2" height="1"/><text lengthAdjust="spacingAndGlyphs" x="660" y="209" textLength="34">0.58515</text><rect x="655" y="238" width="2" height="1"/><text lengthAdjust="spacingAndGlyphs" x="660" y="242" textLength="34">0.58200</text><rect x="655" y="271" width="2" height="1"/><text lengthAdjust="spacingAndGlyphs" x="660" y="275" textLength="34">0.57885</text><rect x="655" y="304" width="2" height="1"/><text lengthAdjust="spacingAndGlyphs" x="660" y="308" textLength="34">0.57570</text><rect x="656" y="184" width="41" height="11"/><text lengthAdjust="spacingAndGlyphs" x="660" y="193" class="w" textLength="34">0.58662</text><rect x="656" y="11" width="41" height="11" fill="#f00"/><text lengthAdjust="spacingAndGlyphs" x="660" y="20" class="w" textLength="34">0.60300</text><rect x="656" y="43" width="41" height="11" fill="#f00"/><text lengthAdjust="spacingAndGlyphs" x="660" y="52" class="w" textLength="34">0.60000</text><rect x="656" y="69" width="41" height="11" fill="#f00"/><text lengthAdjust="spacingAndGlyphs" x="660" y="78" class="w" textLength="34">0.59750</text><rect x="656" y="95" width="41" height="11" fill="#f00"/><text lengthAdjust="spacingAndGlyphs" x="660" y="104" class="w" textLength="34">0.59500</text><rect x="656" y="127" width="41" height="11" fill="#f00"/><text lengthAdjust="spacingAndGlyphs" x="660" y="136" class="w" textLength="34">0.59200</text><rect x="656" y="160" width="41" height="11" fill="#f00"/><text lengthAdjust="spacingAndGlyphs" x="660" y="169" class="w" textLength="34">0.58889</text><rect x="656" y="190" width="41" height="11" fill="#f00"/><text lengthAdjust="spacingAndGlyphs" x="660" y="199" class="w" textLength="34">0.58600</text><rect x="656" y="219" width="41" height="11" fill="#f00"/><text lengthAdjust="spacingAndGlyphs" x="660" y="228" class="w" textLength="34">0.58325</text><rect x="656" y="253" width="41" height="11" fill="#f00"/><text lengthAdjust="spacingAndGlyphs" x="660" y="262" class="w" textLength="34">0.58000</text><rect x="656" y="279" width="41" height="11" fill="#f00"/><text lengthAdjust="spacingAndGlyphs" x="660" y="288" class="w" textLength="34">0.57751</text><rect x="655" y="311" width="1" height="1"/><rect x="655" y="336" width="1" height="1"/><rect x="655" y="393" width="1" height="1"/><text lengthAdjust="spacingAndGlyphs" x="658" y="321" textLength="38.5">0.003169</text><text lengthAdjust="spacingAndGlyphs" x="658" y="340" textLength="18">0.00</text><text lengthAdjust="spacingAndGlyphs" x="658" y="392" textLength="41">-0.007141</text><rect x="655" y="398" width="1" height="1"/><rect x="655" y="480" width="1" height="1"/><rect x="654" y="414" width="1" height="1" fill="#f00"/><rect x="654" y="464" width="1" height="1" fill="#f00"/><text lengthAdjust="spacingAndGlyphs" x="658" y="407" textLength="15">100</text><text lengthAdjust="spacingAndGlyphs" x="657" y="418" textLength="11">80</text><text lengthAdjust="spacingAndGlyphs" x="657" y="468" textLength="10.6">20</text><text lengthAdjust="spacingAndGlyphs" x="658" y="478" textLength="5.4">0</text><rect x="1" y="482" width="1" height="3"/><text lengthAdjust="spacingAndGlyphs" x="0" y="494" textLength="48.5">4 Aug 2025</text><rect x="65" y="482" width="1" height="3"/><text lengthAdjust="spacingAndGlyphs" x="64" y="494" textLength="50.7">6 Aug 20:00</text><rect x="129" y="482" width="1" height="3"/><text lengthAdjust="spacingAndGlyphs" x="128" y="494" textLength="56.2">11 Aug 12:00</text><rect x="193" y="482" width="1" height="3"/><text lengthAdjust="spacingAndGlyphs" x="192" y="494" textLength="56.2">14 Aug 04:00</text><rect x="257" y="482" width="1" height="3"/><text lengthAdjust="spacingAndGlyphs" x="256" y="494" textLength="56.2">18 Aug 20:00</text><rect x="321" y="482" width="1" height="3"/><text lengthAdjust="spacingAndGlyphs" x="320" y="494" textLength="56.2">21 Aug 12:00</text><rect x="385" y="482" width="1" height="3"/><text lengthAdjust="spacingAndGlyphs" x="384" y="494" textLength="56.2">26 Aug 04:00</text><rect x="449" y="482" width="1" height="3"/><text lengthAdjust="spacingAndGlyphs" x="448" y="494" textLength="56.2">28 Aug 20:00</text><rect x="513" y="482" width="1" height="3"/><text lengthAdjust="spacingAndGlyphs" x="512" y="494" textLength="50.7">2 Sep 12:00</text><rect x="577" y="482" width="1" height="3"/><text lengthAdjust="spacingAndGlyphs" x="576" y="494" textLength="50.7">5 Sep 04:00</text><polygon points="4,7 11,7 7.5,11" /><text lengthAdjust="spacingAndGlyphs" x="16" y="12" textLength="54">NZDUSD,H4</text><text lengthAdjust="spacingAndGlyphs" x="5" y="322" textLength="150">MACD(5,34,4) -0.008880 -0.001374</text><text lengthAdjust="spacingAndGlyphs" x="5" y="409" textLength="122">Stoch(5,3,3) 77.9833 48.3252</text></svg></body></html>
